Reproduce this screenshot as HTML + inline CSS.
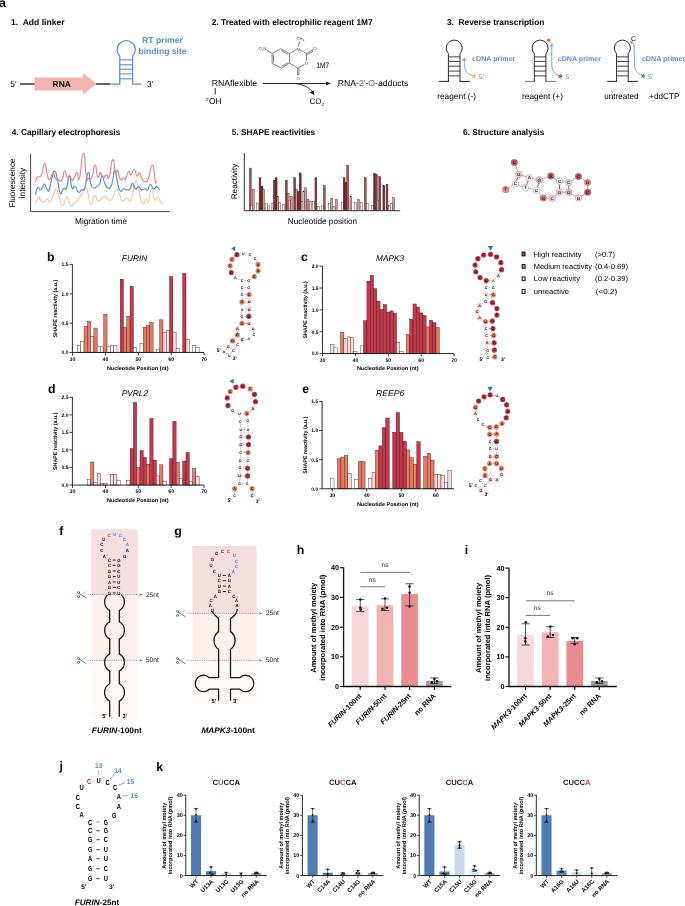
<!DOCTYPE html>
<html lang="en">
<head>
<meta charset="utf-8">
<title>Figure</title>
<style>
html,body{margin:0;padding:0;background:#fff;}
body{width:685px;height:906px;overflow:hidden;}
svg{display:block;font-family:"Liberation Sans", Arial, sans-serif;text-rendering:geometricPrecision;will-change:transform;}
</style>
</head>
<body>
<svg width="685" height="906" viewBox="0 0 685 906">
<rect x="0" y="0" width="685" height="906" fill="#ffffff"/>
<g id="panel-a">
<text x="-0.90" y="7.00" font-size="12.4" font-weight="bold">a</text>
<text x="11.10" y="24.80" font-size="8.5" font-weight="bold" textLength="53.50" lengthAdjust="spacingAndGlyphs" xml:space="preserve">1.  Add linker</text>
<text x="10.20" y="86.90" font-size="8.5">5'</text>
<line x1="20.00" y1="84.00" x2="35.00" y2="84.00" stroke="#222" stroke-width="1.4" />
<polygon points="34.5,77.4 83,77.4 83,73 96.5,84 83,94.5 83,90.5 34.5,90.5" fill="#f4b5b0"/>
<text x="61.80" y="87.00" font-size="8.5" font-weight="bold" text-anchor="middle">RNA</text>
<line x1="96.00" y1="84.00" x2="110.00" y2="84.00" stroke="#222" stroke-width="1.4" />
<path d="M110,84 L119.8,84 L119.8,56.2 A9.1,9.1 0 1 1 132.6,56.2 L132.6,84 L141.5,84" stroke="#5b8fc7" stroke-width="1.25" fill="none" />
<line x1="119.80" y1="59.90" x2="132.60" y2="59.90" stroke="#5b8fc7" stroke-width="1.1" />
<line x1="119.80" y1="64.80" x2="132.60" y2="64.80" stroke="#5b8fc7" stroke-width="1.1" />
<line x1="119.80" y1="69.20" x2="132.60" y2="69.20" stroke="#5b8fc7" stroke-width="1.1" />
<line x1="119.80" y1="73.90" x2="132.60" y2="73.90" stroke="#5b8fc7" stroke-width="1.1" />
<line x1="119.80" y1="78.80" x2="132.60" y2="78.80" stroke="#5b8fc7" stroke-width="1.1" />
<text x="146.90" y="86.90" font-size="8.5">3'</text>
<text x="162.50" y="43.30" font-size="8.7" font-weight="bold" text-anchor="middle" fill="#5b8fc7" textLength="41.00" lengthAdjust="spacingAndGlyphs">RT primer</text>
<text x="162.50" y="54.00" font-size="8.6" font-weight="bold" text-anchor="middle" fill="#5b8fc7" textLength="48.00" lengthAdjust="spacingAndGlyphs">binding site</text>
<text x="211.70" y="24.80" font-size="8.4" font-weight="bold" textLength="161.00" lengthAdjust="spacingAndGlyphs">2. Treated with electrophilic reagent 1M7</text>
<path d="M272.1,53.5 L280.6,48.6 L289.6,53.5 L289.6,63.2 L281.3,68.1 L272.1,63.2 Z" stroke="#2a2a2a" stroke-width="0.6" fill="none" />
<line x1="273.60" y1="54.60" x2="273.60" y2="62.20" stroke="#2a2a2a" stroke-width="0.6" />
<line x1="281.00" y1="50.30" x2="288.20" y2="54.30" stroke="#2a2a2a" stroke-width="0.6" />
<line x1="281.60" y1="66.30" x2="288.20" y2="62.50" stroke="#2a2a2a" stroke-width="0.6" />
<path d="M289.6,53.5 L296.4,49.6 M300,49.8 L306.4,53.5 L306.4,60.8 M304.6,64.3 L298.1,68.1 L289.6,63.2" stroke="#2a2a2a" stroke-width="0.6" fill="none" />
<line x1="306.40" y1="53.50" x2="313.00" y2="49.60" stroke="#2a2a2a" stroke-width="0.6" />
<line x1="307.00" y1="54.70" x2="313.60" y2="50.80" stroke="#2a2a2a" stroke-width="0.6" />
<line x1="297.50" y1="68.10" x2="297.50" y2="75.40" stroke="#2a2a2a" stroke-width="0.6" />
<line x1="298.90" y1="68.10" x2="298.90" y2="75.40" stroke="#2a2a2a" stroke-width="0.6" />
<line x1="298.40" y1="46.80" x2="299.40" y2="41.40" stroke="#2a2a2a" stroke-width="0.6" />
<line x1="266.30" y1="50.00" x2="272.10" y2="53.50" stroke="#2a2a2a" stroke-width="0.6" />
<text x="298.10" y="50.50" font-size="4.4" text-anchor="middle" fill="#333">N</text>
<text x="306.40" y="64.90" font-size="4.4" text-anchor="middle" fill="#333">O</text>
<text x="314.90" y="50.20" font-size="4.4" text-anchor="middle" fill="#333">O</text>
<text x="298.20" y="79.60" font-size="4.4" text-anchor="middle" fill="#333">O</text>
<text x="300.40" y="40.40" font-size="4.2" text-anchor="middle" fill="#333">CH<tspan font-size="2.8" dy="0.8">3</tspan></text>
<text x="262.40" y="50.00" font-size="4.2" text-anchor="middle" fill="#333">O<tspan font-size="2.4" dy="0.8">2</tspan><tspan dy="-0.8">N</tspan></text>
<text x="316.40" y="68.00" font-size="7.9" textLength="12.60" lengthAdjust="spacingAndGlyphs">1M7</text>
<text x="211.70" y="85.70" font-size="8.6" textLength="45.30" lengthAdjust="spacingAndGlyphs">RNAflexible</text>
<line x1="215.20" y1="88.00" x2="215.20" y2="94.40" stroke="#222" stroke-width="0.95" />
<text x="205.60" y="103.80" font-size="8.5"><tspan font-size="4.5" dy="-2.6">2'</tspan><tspan dy="2.6">OH</tspan></text>
<line x1="262.80" y1="83.50" x2="327.50" y2="83.50" stroke="#111" stroke-width="0.9" />
<polygon points="330.8,83.5 326,81.6 326,85.4" fill="#111"/>
<path d="M296,83.6 C304,84.5 310,88 312.8,92.4" stroke="#111" stroke-width="0.9" fill="none" />
<polygon points="314.4,95.2 309.9,92.6 313.6,90.4" fill="#111"/>
<text x="309.60" y="104.40" font-size="8.0">CO<tspan font-size="4.8" dy="1.6">2</tspan></text>
<text x="337.80" y="85.70" font-size="8.6" textLength="70.50" lengthAdjust="spacingAndGlyphs">RNA-<tspan fill="#c4424f">2'</tspan>-<tspan fill="#c4424f">O</tspan>-adducts</text>
<text x="446.90" y="24.80" font-size="8.5" font-weight="bold" textLength="97.50" lengthAdjust="spacingAndGlyphs" xml:space="preserve">3.  Reverse transcription</text>
<path d="M439.1,81.4 L448.8,81.4 M459.6,81.4 L469.8,81.4" stroke="#222" stroke-width="1.0" fill="none" />
<path d="M448.4,81.9 L448.4,53.6 A8,8 0 1 1 460.0,53.6 L460.0,81.9" stroke="#222" stroke-width="0.95" fill="none" />
<line x1="448.40" y1="56.90" x2="460.00" y2="56.90" stroke="#222" stroke-width="0.85" />
<line x1="448.40" y1="61.40" x2="460.00" y2="61.40" stroke="#222" stroke-width="0.85" />
<line x1="448.40" y1="66.20" x2="460.00" y2="66.20" stroke="#222" stroke-width="0.85" />
<line x1="448.40" y1="71.10" x2="460.00" y2="71.10" stroke="#222" stroke-width="0.85" />
<line x1="448.40" y1="75.90" x2="460.00" y2="75.90" stroke="#222" stroke-width="0.85" />
<path d="M473,75.6 C467,74.5 464.3,70 464.3,64 L464.3,59" stroke="#5b8fc7" stroke-width="0.8" fill="none" />
<path d="M462.6,61 L464.3,58.2 L466,61" stroke="#5b8fc7" stroke-width="0.8" fill="none" />
<polygon points="474.74,73.29 475.04,75.34 476.99,76.01 475.14,76.92 475.11,78.99 473.67,77.51 471.69,78.12 472.65,76.29 471.46,74.60 473.50,74.95" fill="#f8c23c"/>
<text x="478.80" y="78.70" font-size="6.9" fill="#5b8fc7">5'</text>
<text x="472.10" y="61.40" font-size="7.1" font-weight="bold" fill="#5b8fc7" textLength="43.30" lengthAdjust="spacingAndGlyphs">cDNA primer</text>
<text x="437.20" y="99.00" font-size="8.3" textLength="38.90" lengthAdjust="spacingAndGlyphs">reagent (-)</text>
<path d="M525.0,81.4 L534.7,81.4 M545.5,81.4 L555.7,81.4" stroke="#777" stroke-width="1.0" fill="none" />
<path d="M534.3,81.9 L534.3,53.6 A8,8 0 1 1 545.9,53.6 L545.9,81.9" stroke="#222" stroke-width="0.95" fill="none" />
<line x1="534.30" y1="56.90" x2="545.90" y2="56.90" stroke="#222" stroke-width="0.85" />
<line x1="534.30" y1="61.40" x2="545.90" y2="61.40" stroke="#222" stroke-width="0.85" />
<line x1="534.30" y1="66.20" x2="545.90" y2="66.20" stroke="#222" stroke-width="0.85" />
<line x1="534.30" y1="71.10" x2="545.90" y2="71.10" stroke="#222" stroke-width="0.85" />
<line x1="534.30" y1="75.90" x2="545.90" y2="75.90" stroke="#222" stroke-width="0.85" />
<circle cx="548.70" cy="40.20" r="1.60" fill="#e8592b"/>
<path d="M559,75.6 C553.5,74 551.8,70 551.8,64 L551.7,44.5" stroke="#5b8fc7" stroke-width="0.8" fill="none" />
<path d="M550,47.2 L551.7,43.6 L553.6,46.6" stroke="#5b8fc7" stroke-width="0.8" fill="none" />
<polygon points="561.14,73.29 561.44,75.34 563.39,76.01 561.54,76.92 561.51,78.99 560.07,77.51 558.09,78.12 559.05,76.29 557.86,74.60 559.90,74.95" fill="#cf4560"/>
<text x="565.60" y="78.70" font-size="6.9" fill="#5b8fc7">5'</text>
<text x="557.70" y="61.40" font-size="7.1" font-weight="bold" fill="#5b8fc7" textLength="43.30" lengthAdjust="spacingAndGlyphs">cDNA primer</text>
<text x="522.00" y="99.00" font-size="8.3" textLength="41.00" lengthAdjust="spacingAndGlyphs">reagent (+)</text>
<path d="M607.3,81.4 L617.0,81.4 M627.8,81.4 L638.0,81.4" stroke="#222" stroke-width="1.0" fill="none" />
<path d="M616.6,81.9 L616.6,53.6 A8,8 0 1 1 628.2,53.6 L628.2,81.9" stroke="#222" stroke-width="0.95" fill="none" />
<line x1="616.60" y1="56.90" x2="628.20" y2="56.90" stroke="#222" stroke-width="0.85" />
<line x1="616.60" y1="61.40" x2="628.20" y2="61.40" stroke="#222" stroke-width="0.85" />
<line x1="616.60" y1="66.20" x2="628.20" y2="66.20" stroke="#222" stroke-width="0.85" />
<line x1="616.60" y1="71.10" x2="628.20" y2="71.10" stroke="#222" stroke-width="0.85" />
<line x1="616.60" y1="75.90" x2="628.20" y2="75.90" stroke="#222" stroke-width="0.85" />
<text x="633.40" y="40.80" font-size="6.8" text-anchor="middle">C</text>
<path d="M642.4,75.4 C636.5,73.5 634.6,70 634.5,64 L634,44.5 L631,42" stroke="#5b8fc7" stroke-width="0.8" fill="none" />
<path d="M631.6,44.6 L630.4,41.6 L633.6,41.9" stroke="#5b8fc7" stroke-width="0.8" fill="none" />
<polygon points="644.04,73.09 644.34,75.14 646.29,75.81 644.44,76.72 644.41,78.79 642.97,77.31 640.99,77.92 641.95,76.09 640.76,74.40 642.80,74.75" fill="#4a86d0"/>
<text x="648.00" y="78.70" font-size="6.9" fill="#5b8fc7">5'</text>
<text x="641.90" y="61.40" font-size="7.1" font-weight="bold" fill="#5b8fc7" textLength="43.30" lengthAdjust="spacingAndGlyphs">cDNA primer</text>
<text x="604.30" y="99.00" font-size="8.3" textLength="34.20" lengthAdjust="spacingAndGlyphs">untreated</text>
<text x="649.30" y="99.00" font-size="8.3" textLength="30.00" lengthAdjust="spacingAndGlyphs">+ddCTP</text>
<text x="11.70" y="134.60" font-size="8.5" font-weight="bold" textLength="108.60" lengthAdjust="spacingAndGlyphs">4. Capillary electrophoresis</text>
<path d="M30.6,154 L30.6,211.6 L169.6,211.6" stroke="#444" stroke-width="1.0" fill="none" />
<text x="15.30" y="183.00" font-size="8.2" text-anchor="middle" textLength="49.00" lengthAdjust="spacingAndGlyphs" transform="rotate(-90 15.30 183.00)">Fluorescence</text>
<text x="25.00" y="183.00" font-size="8.2" text-anchor="middle" textLength="30.50" lengthAdjust="spacingAndGlyphs" transform="rotate(-90 25.00 183.00)">intensity</text>
<text x="75.00" y="223.80" font-size="8.2" textLength="52.00" lengthAdjust="spacingAndGlyphs">Migration time</text>
<path d="M35.51,204.22 C36.44,201.93 36.51,198.57 38.30,197.36 C40.09,196.14 38.94,199.14 40.88,200.58 C42.81,202.01 41.95,202.01 44.09,201.65 C46.24,201.29 45.17,199.50 47.31,199.50 C49.46,199.50 48.39,203.44 50.53,201.65 C52.68,199.86 51.82,198.29 53.75,194.14 C55.68,189.99 54.54,188.13 56.33,189.20 C58.11,190.27 57.11,191.92 59.12,197.36 C61.12,202.79 60.19,204.80 62.33,205.51 C64.48,206.23 63.77,202.08 65.55,199.50 C67.34,196.93 65.91,195.64 67.70,197.79 C69.49,199.93 68.77,204.29 70.92,205.94 C73.06,207.59 71.99,204.51 74.14,202.72 C76.28,200.93 74.85,203.44 77.36,200.58 C79.86,197.71 78.79,198.43 81.65,194.14 C84.51,189.85 83.79,187.70 85.94,187.70 C88.09,187.70 86.51,188.63 88.09,194.14 C89.66,199.65 88.52,203.51 90.66,204.22 C92.81,204.94 92.16,197.50 94.52,196.28 C96.88,195.07 95.60,199.50 97.74,200.58 C99.89,201.65 98.82,200.93 100.96,199.50 C103.11,198.07 102.03,196.64 104.18,196.28 C106.33,195.93 104.90,197.36 107.40,198.43 C109.90,199.50 108.83,202.36 111.69,199.50 C114.55,196.64 113.48,191.63 115.98,189.85 C118.49,188.06 117.06,190.56 119.20,194.14 C121.35,197.71 119.92,199.14 122.42,200.58 C124.92,202.01 123.85,198.79 126.71,198.43 C129.57,198.07 128.50,203.79 131.00,199.50 C133.51,195.21 132.22,191.28 134.22,185.55 C136.23,179.83 135.22,179.47 137.01,182.33 C138.80,185.20 137.66,186.98 139.59,194.14 C141.52,201.29 140.66,202.01 142.81,203.79 C144.95,205.58 144.09,200.22 146.03,199.50 C147.96,198.79 146.81,205.22 148.60,201.65 C150.39,198.07 149.39,189.49 151.39,188.77 C153.39,188.06 152.46,196.64 154.61,199.50 C156.76,202.36 155.68,196.28 157.83,197.36 C159.97,198.43 159.26,200.43 161.05,202.72 C162.84,205.01 162.48,203.72 163.19,204.22" stroke="#f3c6a8" stroke-width="1.15" fill="none" stroke-linejoin="round"/>
<path d="M35.51,194.78 C36.23,192.42 36.01,189.34 37.66,187.70 C39.30,186.05 38.80,190.20 40.45,189.85 C42.09,189.49 41.16,188.41 42.59,186.63 C44.02,184.84 43.16,183.41 44.74,184.48 C46.31,185.55 45.74,188.41 47.31,189.85 C48.89,191.28 47.89,192.71 49.46,188.77 C51.03,184.84 50.25,183.91 52.03,178.04 C53.82,172.18 52.96,170.46 54.82,171.18 C56.68,171.89 55.83,172.89 57.61,180.19 C59.40,187.48 58.26,190.20 60.19,193.06 C62.12,195.93 61.26,190.56 63.41,188.77 C65.55,186.98 64.62,191.99 66.63,187.70 C68.63,183.41 67.63,175.90 69.42,175.90 C71.20,175.90 70.06,184.12 71.99,187.70 C73.92,191.28 73.06,185.20 75.21,186.63 C77.36,188.06 76.28,190.92 78.43,191.99 C80.58,193.06 79.50,191.28 81.65,189.85 C83.79,188.41 82.72,193.42 84.87,187.70 C87.01,181.98 86.15,174.11 88.09,172.68 C90.02,171.25 88.87,178.40 90.66,183.41 C92.45,188.41 91.45,186.63 93.45,187.70 C95.45,188.77 94.52,188.06 96.67,186.63 C98.82,185.20 98.10,186.98 99.89,183.41 C101.68,179.83 100.39,175.90 102.03,175.90 C103.68,175.90 102.89,179.47 104.82,183.41 C106.76,187.34 105.90,186.63 107.83,187.70 C109.76,188.77 108.97,189.13 110.62,186.63 C112.26,184.12 111.33,185.55 112.76,180.19 C114.19,174.82 113.26,169.46 114.91,170.53 C116.56,171.61 115.91,176.61 117.70,183.41 C119.49,190.20 118.34,189.13 120.27,190.92 C122.21,192.71 121.35,189.13 123.49,188.77 C125.64,188.41 124.57,189.85 126.71,189.85 C128.86,189.85 128.00,190.92 129.93,188.77 C131.86,186.63 130.72,183.41 132.51,183.41 C134.29,183.41 133.29,187.70 135.30,188.77 C137.30,189.85 136.37,186.27 138.52,186.63 C140.66,186.98 139.59,189.13 141.73,189.85 C143.88,190.56 142.95,188.77 144.95,188.77 C146.96,188.77 145.95,191.28 147.74,189.85 C149.53,188.41 148.39,184.84 150.32,184.48 C152.25,184.12 151.39,188.06 153.54,188.77 C155.68,189.49 154.82,186.27 156.76,186.63 C158.69,186.98 158.47,188.77 159.33,189.85" stroke="#4f8fd6" stroke-width="1.15" fill="none" stroke-linejoin="round"/>
<path d="M35.51,182.33 C36.01,180.76 35.58,179.62 37.01,177.61 C38.44,175.61 38.16,177.61 39.80,176.33 C41.45,175.04 40.30,178.04 41.95,173.75 C43.59,169.46 42.95,163.09 44.74,163.45 C46.53,163.81 45.74,169.60 47.31,174.82 C48.89,180.05 47.89,179.12 49.46,179.12 C51.03,179.12 50.60,176.76 52.03,174.82 C53.46,172.89 52.46,171.89 53.75,173.32 C55.04,174.75 54.11,176.83 55.90,179.12 C57.69,181.40 57.11,179.83 59.12,180.19 C61.12,180.55 60.12,183.19 61.91,180.19 C63.69,177.18 62.76,172.25 64.48,171.18 C66.20,170.10 65.27,175.40 67.06,176.97 C68.84,178.54 68.20,174.82 69.85,175.90 C71.49,176.97 70.56,179.47 71.99,180.19 C73.42,180.90 72.49,180.55 74.14,178.04 C75.78,175.54 75.14,172.68 76.93,172.68 C78.72,172.68 77.36,184.48 79.50,178.04 C81.65,171.61 81.08,154.08 83.36,153.36 C85.65,152.65 84.44,167.67 86.37,175.90 C88.30,184.12 87.16,178.04 89.16,178.04 C91.16,178.04 90.37,180.19 92.38,175.90 C94.38,171.61 93.38,164.81 95.17,165.17 C96.96,165.53 95.95,174.47 97.74,176.97 C99.53,179.47 98.74,172.32 100.53,172.68 C102.32,173.04 101.18,177.33 103.11,178.04 C105.04,178.76 104.32,175.18 106.33,174.82 C108.33,174.47 106.97,181.98 109.12,176.97 C111.26,171.96 110.62,161.23 112.76,159.80 C114.91,158.37 113.91,169.10 115.55,172.68 C117.20,176.25 116.13,168.39 117.70,170.53 C119.27,172.68 118.34,176.61 120.27,179.12 C122.21,181.62 121.71,178.04 123.49,178.04 C125.28,178.04 123.99,181.26 125.64,179.12 C127.28,176.97 126.64,173.04 128.43,171.61 C130.22,170.17 129.07,175.54 131.00,174.82 C132.94,174.11 132.22,169.10 134.22,169.46 C136.23,169.82 135.22,174.61 137.01,175.90 C138.80,177.18 137.66,171.89 139.59,173.32 C141.52,174.75 140.80,177.54 142.81,180.19 C144.81,182.84 143.81,181.62 145.60,181.26 C147.38,180.90 145.88,184.48 148.17,179.12 C150.46,173.75 150.17,164.81 152.46,165.17 C154.75,165.53 153.61,174.61 155.04,180.19 C156.47,185.77 156.18,181.33 156.76,181.91" stroke="#ea8088" stroke-width="1.15" fill="none" stroke-linejoin="round"/>
<text x="231.70" y="134.60" font-size="8.5" font-weight="bold" textLength="83.50" lengthAdjust="spacingAndGlyphs">5. SHAPE reactivities</text>
<text x="236.90" y="181.50" font-size="8.1" text-anchor="middle" textLength="35.60" lengthAdjust="spacingAndGlyphs" transform="rotate(-90 236.90 181.50)">Reactivity</text>
<text x="287.70" y="224.20" font-size="8.2" textLength="69.50" lengthAdjust="spacingAndGlyphs">Nucleotide position</text>
<rect x="249.41" y="168.07" width="1.90" height="42.33" fill="#b5484e" stroke="#2a1414" stroke-width="0.35"/>
<rect x="252.30" y="189.04" width="1.90" height="21.36" fill="#d9948a" stroke="#2a1414" stroke-width="0.35"/>
<rect x="250.62" y="205.42" width="1.90" height="4.98" fill="#f2f2f2" stroke="#2a1414" stroke-width="0.35"/>
<rect x="256.40" y="203.01" width="1.90" height="7.39" fill="#f2f2f2" stroke="#2a1414" stroke-width="0.35"/>
<rect x="259.05" y="177.71" width="1.90" height="32.69" fill="#8c3a3f" stroke="#2a1414" stroke-width="0.35"/>
<rect x="260.98" y="186.14" width="1.90" height="24.26" fill="#6e2a2e" stroke="#2a1414" stroke-width="0.35"/>
<rect x="262.66" y="189.04" width="1.90" height="21.36" fill="#d9948a" stroke="#2a1414" stroke-width="0.35"/>
<rect x="265.56" y="203.49" width="1.90" height="6.91" fill="#f2f2f2" stroke="#2a1414" stroke-width="0.35"/>
<rect x="267.97" y="205.90" width="1.90" height="4.50" fill="#f2f2f2" stroke="#2a1414" stroke-width="0.35"/>
<rect x="271.10" y="203.49" width="1.90" height="6.91" fill="#f2f2f2" stroke="#2a1414" stroke-width="0.35"/>
<rect x="273.27" y="180.12" width="1.90" height="30.28" fill="#8c3a3f" stroke="#2a1414" stroke-width="0.35"/>
<rect x="275.19" y="177.71" width="1.90" height="32.69" fill="#6e2a2e" stroke="#2a1414" stroke-width="0.35"/>
<rect x="276.88" y="196.27" width="1.90" height="14.13" fill="#d9948a" stroke="#2a1414" stroke-width="0.35"/>
<rect x="278.81" y="202.53" width="1.90" height="7.87" fill="#f2f2f2" stroke="#2a1414" stroke-width="0.35"/>
<rect x="282.42" y="204.22" width="1.90" height="6.18" fill="#f2f2f2" stroke="#2a1414" stroke-width="0.35"/>
<rect x="285.32" y="180.12" width="1.90" height="30.28" fill="#8c3a3f" stroke="#2a1414" stroke-width="0.35"/>
<rect x="287.24" y="193.37" width="1.90" height="17.03" fill="#d9948a" stroke="#2a1414" stroke-width="0.35"/>
<rect x="288.93" y="200.12" width="1.90" height="10.28" fill="#e8c4c0" stroke="#2a1414" stroke-width="0.35"/>
<rect x="290.62" y="196.27" width="1.90" height="14.13" fill="#d9948a" stroke="#2a1414" stroke-width="0.35"/>
<rect x="293.75" y="177.71" width="1.90" height="32.69" fill="#8c3a3f" stroke="#2a1414" stroke-width="0.35"/>
<rect x="295.68" y="189.76" width="1.90" height="20.64" fill="#d9948a" stroke="#2a1414" stroke-width="0.35"/>
<rect x="297.36" y="191.45" width="1.90" height="18.95" fill="#6e2a2e" stroke="#2a1414" stroke-width="0.35"/>
<rect x="299.29" y="172.89" width="1.90" height="37.51" fill="#6e2a2e" stroke="#2a1414" stroke-width="0.35"/>
<rect x="301.22" y="201.81" width="1.90" height="8.59" fill="#f2f2f2" stroke="#2a1414" stroke-width="0.35"/>
<rect x="302.91" y="190.96" width="1.90" height="19.44" fill="#e8c4c0" stroke="#2a1414" stroke-width="0.35"/>
<rect x="304.59" y="187.83" width="1.90" height="22.57" fill="#d9948a" stroke="#2a1414" stroke-width="0.35"/>
<rect x="307.00" y="199.40" width="1.90" height="11.00" fill="#d9948a" stroke="#2a1414" stroke-width="0.35"/>
<rect x="309.41" y="201.08" width="1.90" height="9.32" fill="#e8c4c0" stroke="#2a1414" stroke-width="0.35"/>
<rect x="312.54" y="201.81" width="1.90" height="8.59" fill="#f2f2f2" stroke="#2a1414" stroke-width="0.35"/>
<rect x="314.95" y="177.71" width="1.90" height="32.69" fill="#8c3a3f" stroke="#2a1414" stroke-width="0.35"/>
<rect x="317.36" y="206.63" width="1.90" height="3.77" fill="#f2f2f2" stroke="#2a1414" stroke-width="0.35"/>
<rect x="321.70" y="205.90" width="1.90" height="4.50" fill="#f2f2f2" stroke="#2a1414" stroke-width="0.35"/>
<rect x="323.39" y="185.42" width="1.90" height="24.98" fill="#b5484e" stroke="#2a1414" stroke-width="0.35"/>
<rect x="328.21" y="203.49" width="1.90" height="6.91" fill="#f2f2f2" stroke="#2a1414" stroke-width="0.35"/>
<rect x="330.62" y="198.19" width="1.90" height="12.21" fill="#d9948a" stroke="#2a1414" stroke-width="0.35"/>
<rect x="333.03" y="206.63" width="1.90" height="3.77" fill="#f2f2f2" stroke="#2a1414" stroke-width="0.35"/>
<rect x="335.44" y="199.40" width="1.90" height="11.00" fill="#d9948a" stroke="#2a1414" stroke-width="0.35"/>
<rect x="341.46" y="202.53" width="1.90" height="7.87" fill="#f2f2f2" stroke="#2a1414" stroke-width="0.35"/>
<rect x="343.15" y="177.71" width="1.90" height="32.69" fill="#8c3a3f" stroke="#2a1414" stroke-width="0.35"/>
<rect x="344.83" y="182.53" width="1.90" height="27.87" fill="#6e2a2e" stroke="#2a1414" stroke-width="0.35"/>
<rect x="346.76" y="165.18" width="1.90" height="45.22" fill="#b5484e" stroke="#2a1414" stroke-width="0.35"/>
<rect x="349.89" y="196.27" width="1.90" height="14.13" fill="#d9948a" stroke="#2a1414" stroke-width="0.35"/>
<rect x="354.71" y="202.53" width="1.90" height="7.87" fill="#f2f2f2" stroke="#2a1414" stroke-width="0.35"/>
<rect x="357.60" y="199.40" width="1.90" height="11.00" fill="#d9948a" stroke="#2a1414" stroke-width="0.35"/>
<rect x="360.74" y="202.53" width="1.90" height="7.87" fill="#f2f2f2" stroke="#2a1414" stroke-width="0.35"/>
<rect x="364.35" y="177.71" width="1.90" height="32.69" fill="#b5484e" stroke="#2a1414" stroke-width="0.35"/>
<rect x="366.28" y="203.49" width="1.90" height="6.91" fill="#f2f2f2" stroke="#2a1414" stroke-width="0.35"/>
<rect x="371.58" y="205.42" width="1.90" height="4.98" fill="#f2f2f2" stroke="#2a1414" stroke-width="0.35"/>
<rect x="373.51" y="173.37" width="1.90" height="37.03" fill="#6e2a2e" stroke="#2a1414" stroke-width="0.35"/>
<rect x="375.44" y="174.10" width="1.90" height="36.30" fill="#8c3a3f" stroke="#2a1414" stroke-width="0.35"/>
<rect x="377.12" y="200.12" width="1.90" height="10.28" fill="#f2f2f2" stroke="#2a1414" stroke-width="0.35"/>
<rect x="378.81" y="176.51" width="1.90" height="33.89" fill="#8c3a3f" stroke="#2a1414" stroke-width="0.35"/>
<rect x="382.91" y="185.42" width="1.90" height="24.98" fill="#6e2a2e" stroke="#2a1414" stroke-width="0.35"/>
<rect x="386.04" y="184.22" width="1.90" height="26.18" fill="#8c3a3f" stroke="#2a1414" stroke-width="0.35"/>
<rect x="388.45" y="205.42" width="1.90" height="4.98" fill="#f2f2f2" stroke="#2a1414" stroke-width="0.35"/>
<rect x="390.38" y="203.49" width="1.90" height="6.91" fill="#f2f2f2" stroke="#2a1414" stroke-width="0.35"/>
<rect x="392.78" y="197.71" width="1.90" height="12.69" fill="#d9948a" stroke="#2a1414" stroke-width="0.35"/>
<path d="M244.3,152.9 L244.3,210.7 L400.2,210.7" stroke="#333" stroke-width="1.0" fill="none" />
<text x="463.10" y="135.00" font-size="8.5" font-weight="bold" textLength="81.20" lengthAdjust="spacingAndGlyphs">6. Structure analysis</text>
<line x1="514.36" y1="162.56" x2="518.82" y2="174.39" stroke="#8a8a8a" stroke-width="0.7" />
<line x1="518.82" y1="174.39" x2="529.33" y2="177.80" stroke="#8a8a8a" stroke-width="0.7" />
<line x1="529.33" y1="177.80" x2="539.32" y2="179.91" stroke="#8a8a8a" stroke-width="0.7" />
<line x1="539.32" y1="179.91" x2="550.88" y2="175.96" stroke="#8a8a8a" stroke-width="0.7" />
<line x1="550.88" y1="175.96" x2="559.55" y2="181.22" stroke="#8a8a8a" stroke-width="0.7" />
<line x1="559.55" y1="181.22" x2="568.74" y2="182.53" stroke="#8a8a8a" stroke-width="0.7" />
<line x1="568.74" y1="182.53" x2="578.47" y2="176.49" stroke="#8a8a8a" stroke-width="0.7" />
<line x1="578.47" y1="176.49" x2="587.66" y2="182.53" stroke="#8a8a8a" stroke-width="0.7" />
<line x1="587.66" y1="182.53" x2="587.66" y2="192.25" stroke="#8a8a8a" stroke-width="0.7" />
<line x1="587.66" y1="192.25" x2="578.47" y2="198.03" stroke="#8a8a8a" stroke-width="0.7" />
<line x1="578.47" y1="198.03" x2="568.74" y2="192.25" stroke="#8a8a8a" stroke-width="0.7" />
<line x1="568.74" y1="192.25" x2="559.55" y2="192.25" stroke="#8a8a8a" stroke-width="0.7" />
<line x1="559.55" y1="192.25" x2="552.19" y2="198.30" stroke="#8a8a8a" stroke-width="0.7" />
<line x1="552.19" y1="198.30" x2="543.26" y2="198.03" stroke="#8a8a8a" stroke-width="0.7" />
<line x1="543.26" y1="198.03" x2="536.69" y2="190.15" stroke="#8a8a8a" stroke-width="0.7" />
<line x1="536.69" y1="190.15" x2="525.39" y2="187.79" stroke="#8a8a8a" stroke-width="0.7" />
<line x1="525.39" y1="187.79" x2="515.41" y2="183.85" stroke="#8a8a8a" stroke-width="0.7" />
<line x1="515.41" y1="183.85" x2="505.69" y2="189.63" stroke="#8a8a8a" stroke-width="0.7" />
<line x1="518.82" y1="174.39" x2="515.41" y2="183.85" stroke="#cc3a42" stroke-width="0.95" />
<line x1="529.33" y1="177.80" x2="525.39" y2="187.79" stroke="#cc3a42" stroke-width="0.95" />
<line x1="539.32" y1="179.91" x2="536.69" y2="190.15" stroke="#cc3a42" stroke-width="0.95" />
<line x1="559.55" y1="181.22" x2="559.55" y2="192.25" stroke="#cc3a42" stroke-width="0.95" />
<line x1="568.74" y1="182.53" x2="568.74" y2="192.25" stroke="#cc3a42" stroke-width="0.95" />
<circle cx="514.36" cy="162.56" r="3.30" fill="#c4515d" stroke="#8e8888" stroke-width="0.5"/>
<text x="514.36" y="164.16" font-size="4.6" font-weight="bold" text-anchor="middle" fill="#1a1a1a">C</text>
<circle cx="518.82" cy="174.39" r="3.30" fill="#f9dbd9" stroke="#8e8888" stroke-width="0.5"/>
<text x="518.82" y="175.99" font-size="4.6" font-weight="bold" text-anchor="middle" fill="#1a1a1a">G</text>
<circle cx="529.33" cy="177.80" r="3.30" fill="#ffffff" stroke="#8e8888" stroke-width="0.5"/>
<text x="529.33" y="179.40" font-size="4.6" font-weight="bold" text-anchor="middle" fill="#1a1a1a">A</text>
<circle cx="539.32" cy="179.91" r="3.30" fill="#f4c4c3" stroke="#8e8888" stroke-width="0.5"/>
<text x="539.32" y="181.51" font-size="4.6" font-weight="bold" text-anchor="middle" fill="#1a1a1a">G</text>
<circle cx="550.88" cy="175.96" r="3.30" fill="#c4515d" stroke="#8e8888" stroke-width="0.5"/>
<text x="550.88" y="177.56" font-size="4.6" font-weight="bold" text-anchor="middle" fill="#1a1a1a">A</text>
<circle cx="559.55" cy="181.22" r="3.30" fill="#ffffff" stroke="#8e8888" stroke-width="0.5"/>
<text x="559.55" y="182.82" font-size="4.6" font-weight="bold" text-anchor="middle" fill="#1a1a1a">C</text>
<circle cx="568.74" cy="182.53" r="3.30" fill="#f9dbd9" stroke="#8e8888" stroke-width="0.5"/>
<text x="568.74" y="184.13" font-size="4.6" font-weight="bold" text-anchor="middle" fill="#1a1a1a">C</text>
<circle cx="578.47" cy="176.49" r="3.30" fill="#c4515d" stroke="#8e8888" stroke-width="0.5"/>
<text x="578.47" y="178.09" font-size="4.6" font-weight="bold" text-anchor="middle" fill="#1a1a1a">C</text>
<circle cx="587.66" cy="182.53" r="3.30" fill="#e8907a" stroke="#8e8888" stroke-width="0.5"/>
<text x="587.66" y="184.13" font-size="4.6" font-weight="bold" text-anchor="middle" fill="#1a1a1a">G</text>
<circle cx="587.66" cy="192.25" r="3.30" fill="#c4515d" stroke="#8e8888" stroke-width="0.5"/>
<text x="587.66" y="193.85" font-size="4.6" font-weight="bold" text-anchor="middle" fill="#1a1a1a">C</text>
<circle cx="578.47" cy="198.03" r="3.30" fill="#f9dbd9" stroke="#8e8888" stroke-width="0.5"/>
<text x="578.47" y="199.63" font-size="4.6" font-weight="bold" text-anchor="middle" fill="#1a1a1a">G</text>
<circle cx="568.74" cy="192.25" r="3.30" fill="#f4c4c3" stroke="#8e8888" stroke-width="0.5"/>
<text x="568.74" y="193.85" font-size="4.6" font-weight="bold" text-anchor="middle" fill="#1a1a1a">G</text>
<circle cx="559.55" cy="192.25" r="3.30" fill="#f9dbd9" stroke="#8e8888" stroke-width="0.5"/>
<text x="559.55" y="193.85" font-size="4.6" font-weight="bold" text-anchor="middle" fill="#1a1a1a">G</text>
<circle cx="552.19" cy="198.30" r="3.30" fill="#f9dbd9" stroke="#8e8888" stroke-width="0.5"/>
<text x="552.19" y="199.90" font-size="4.6" font-weight="bold" text-anchor="middle" fill="#1a1a1a">C</text>
<circle cx="543.26" cy="198.03" r="3.30" fill="#dc8272" stroke="#8e8888" stroke-width="0.5"/>
<text x="543.26" y="199.63" font-size="4.6" font-weight="bold" text-anchor="middle" fill="#1a1a1a">G</text>
<circle cx="536.69" cy="190.15" r="3.30" fill="#ffffff" stroke="#8e8888" stroke-width="0.5"/>
<text x="536.69" y="191.75" font-size="4.6" font-weight="bold" text-anchor="middle" fill="#1a1a1a">C</text>
<circle cx="525.39" cy="187.79" r="3.30" fill="#ffffff" stroke="#8e8888" stroke-width="0.5"/>
<text x="525.39" y="189.39" font-size="4.6" font-weight="bold" text-anchor="middle" fill="#1a1a1a">T</text>
<circle cx="515.41" cy="183.85" r="3.30" fill="#ffffff" stroke="#8e8888" stroke-width="0.5"/>
<text x="515.41" y="185.45" font-size="4.6" font-weight="bold" text-anchor="middle" fill="#1a1a1a">C</text>
<circle cx="505.69" cy="189.63" r="3.30" fill="#e8907a" stroke="#8e8888" stroke-width="0.5"/>
<text x="505.69" y="191.23" font-size="4.6" font-weight="bold" text-anchor="middle" fill="#1a1a1a">T</text>
</g>
<g id="panel-b">
<text x="46.90" y="260.50" font-size="12.3" font-weight="bold">b</text>
<text x="121.80" y="260.50" font-size="8.3" font-style="italic" textLength="25.50" lengthAdjust="spacingAndGlyphs">FURIN</text>
<rect x="77.44" y="345.42" width="3.29" height="7.03" fill="#ffffff" stroke="#3a1518" stroke-width="0.4"/>
<rect x="80.73" y="341.50" width="3.29" height="10.95" fill="#ffffff" stroke="#3a1518" stroke-width="0.4"/>
<rect x="84.02" y="326.50" width="3.29" height="25.95" fill="#e97a62" stroke="#3a1518" stroke-width="0.4"/>
<rect x="87.31" y="321.41" width="3.29" height="31.04" fill="#e97a62" stroke="#3a1518" stroke-width="0.4"/>
<rect x="90.60" y="336.40" width="3.29" height="16.05" fill="#fcdcd9" stroke="#3a1518" stroke-width="0.4"/>
<rect x="93.89" y="328.03" width="3.29" height="24.42" fill="#e97a62" stroke="#3a1518" stroke-width="0.4"/>
<rect x="97.17" y="346.83" width="3.29" height="5.62" fill="#ffffff" stroke="#3a1518" stroke-width="0.4"/>
<rect x="100.47" y="346.83" width="3.29" height="5.62" fill="#ffffff" stroke="#3a1518" stroke-width="0.4"/>
<rect x="103.76" y="314.26" width="3.29" height="38.19" fill="#e97a62" stroke="#3a1518" stroke-width="0.4"/>
<rect x="107.05" y="346.36" width="3.29" height="6.09" fill="#ffffff" stroke="#3a1518" stroke-width="0.4"/>
<rect x="110.34" y="345.30" width="3.29" height="7.15" fill="#ffffff" stroke="#3a1518" stroke-width="0.4"/>
<rect x="113.63" y="345.60" width="3.29" height="6.85" fill="#ffffff" stroke="#3a1518" stroke-width="0.4"/>
<rect x="120.20" y="279.12" width="3.29" height="73.33" fill="#c5384b" stroke="#3a1518" stroke-width="0.4"/>
<rect x="123.50" y="327.50" width="3.29" height="24.95" fill="#e97a62" stroke="#3a1518" stroke-width="0.4"/>
<rect x="126.79" y="316.14" width="3.29" height="36.31" fill="#e97a62" stroke="#3a1518" stroke-width="0.4"/>
<rect x="130.07" y="286.27" width="3.29" height="66.18" fill="#c5384b" stroke="#3a1518" stroke-width="0.4"/>
<rect x="133.36" y="347.35" width="3.29" height="5.10" fill="#ffffff" stroke="#3a1518" stroke-width="0.4"/>
<rect x="139.94" y="343.26" width="3.29" height="9.19" fill="#ffffff" stroke="#3a1518" stroke-width="0.4"/>
<rect x="143.23" y="327.27" width="3.29" height="25.18" fill="#e97a62" stroke="#3a1518" stroke-width="0.4"/>
<rect x="146.53" y="325.51" width="3.29" height="26.94" fill="#e97a62" stroke="#3a1518" stroke-width="0.4"/>
<rect x="149.81" y="322.41" width="3.29" height="30.04" fill="#e97a62" stroke="#3a1518" stroke-width="0.4"/>
<rect x="156.40" y="349.40" width="3.29" height="3.05" fill="#ffffff" stroke="#3a1518" stroke-width="0.4"/>
<rect x="159.68" y="319.83" width="3.29" height="32.62" fill="#e97a62" stroke="#3a1518" stroke-width="0.4"/>
<rect x="162.97" y="332.54" width="3.29" height="19.91" fill="#fcdcd9" stroke="#3a1518" stroke-width="0.4"/>
<rect x="166.26" y="330.31" width="3.29" height="22.14" fill="#fcdcd9" stroke="#3a1518" stroke-width="0.4"/>
<rect x="169.55" y="276.55" width="3.29" height="75.90" fill="#c5384b" stroke="#3a1518" stroke-width="0.4"/>
<rect x="172.84" y="332.07" width="3.29" height="20.38" fill="#fcdcd9" stroke="#3a1518" stroke-width="0.4"/>
<rect x="176.13" y="348.64" width="3.29" height="3.81" fill="#ffffff" stroke="#3a1518" stroke-width="0.4"/>
<rect x="182.72" y="273.50" width="3.29" height="78.95" fill="#c5384b" stroke="#3a1518" stroke-width="0.4"/>
<rect x="186.00" y="339.45" width="3.29" height="13.00" fill="#fcdcd9" stroke="#3a1518" stroke-width="0.4"/>
<rect x="192.59" y="345.30" width="3.29" height="7.15" fill="#ffffff" stroke="#3a1518" stroke-width="0.4"/>
<rect x="195.87" y="347.18" width="3.29" height="5.27" fill="#ffffff" stroke="#3a1518" stroke-width="0.4"/>
<path d="M72.40,264.20 L72.40,352.45 L204.00,352.45" stroke="#111" stroke-width="0.9" fill="none" />
<line x1="69.50" y1="352.45" x2="72.40" y2="352.45" stroke="#111" stroke-width="0.8" />
<text x="68.50" y="354.30" font-size="5.1" font-weight="bold" text-anchor="end" textLength="6.90" lengthAdjust="spacingAndGlyphs">0.0</text>
<line x1="69.50" y1="323.17" x2="72.40" y2="323.17" stroke="#111" stroke-width="0.8" />
<text x="68.50" y="325.02" font-size="5.1" font-weight="bold" text-anchor="end" textLength="6.90" lengthAdjust="spacingAndGlyphs">0.5</text>
<line x1="69.50" y1="293.88" x2="72.40" y2="293.88" stroke="#111" stroke-width="0.8" />
<text x="68.50" y="295.73" font-size="5.1" font-weight="bold" text-anchor="end" textLength="6.90" lengthAdjust="spacingAndGlyphs">1.0</text>
<line x1="69.50" y1="264.60" x2="72.40" y2="264.60" stroke="#111" stroke-width="0.8" />
<text x="68.50" y="266.45" font-size="5.1" font-weight="bold" text-anchor="end" textLength="6.90" lengthAdjust="spacingAndGlyphs">1.5</text>
<line x1="72.50" y1="352.45" x2="72.50" y2="355.35" stroke="#111" stroke-width="0.8" />
<text x="72.50" y="360.70" font-size="5.2" font-weight="bold" text-anchor="middle">30</text>
<line x1="105.40" y1="352.45" x2="105.40" y2="355.35" stroke="#111" stroke-width="0.8" />
<text x="105.40" y="360.70" font-size="5.2" font-weight="bold" text-anchor="middle">40</text>
<line x1="138.30" y1="352.45" x2="138.30" y2="355.35" stroke="#111" stroke-width="0.8" />
<text x="138.30" y="360.70" font-size="5.2" font-weight="bold" text-anchor="middle">50</text>
<line x1="171.20" y1="352.45" x2="171.20" y2="355.35" stroke="#111" stroke-width="0.8" />
<text x="171.20" y="360.70" font-size="5.2" font-weight="bold" text-anchor="middle">60</text>
<line x1="204.10" y1="352.45" x2="204.10" y2="355.35" stroke="#111" stroke-width="0.8" />
<text x="204.10" y="360.70" font-size="5.2" font-weight="bold" text-anchor="middle">70</text>
<text x="106.90" y="369.60" font-size="5.45" font-weight="bold" textLength="61.60" lengthAdjust="spacingAndGlyphs">Nucleotide Position (nt)</text>
<text x="57.20" y="308.52" font-size="5.35" font-weight="bold" text-anchor="middle" textLength="57.50" lengthAdjust="spacingAndGlyphs" transform="rotate(-90 57.20 308.52)">SHAPE reactivity (a.u.)</text>
</g>
<g id="panel-c">
<text x="301.00" y="260.50" font-size="12.3" font-weight="bold">c</text>
<text x="376.10" y="260.50" font-size="8.3" font-style="italic" textLength="28.10" lengthAdjust="spacingAndGlyphs">MAPK3</text>
<rect x="330.73" y="344.77" width="3.29" height="8.73" fill="#fcdcd9" stroke="#3a1518" stroke-width="0.4"/>
<rect x="334.02" y="347.83" width="3.29" height="5.67" fill="#ffffff" stroke="#3a1518" stroke-width="0.4"/>
<rect x="340.60" y="332.11" width="3.29" height="21.39" fill="#e97a62" stroke="#3a1518" stroke-width="0.4"/>
<rect x="343.88" y="338.22" width="3.29" height="15.28" fill="#fcdcd9" stroke="#3a1518" stroke-width="0.4"/>
<rect x="347.18" y="336.91" width="3.29" height="16.59" fill="#fcdcd9" stroke="#3a1518" stroke-width="0.4"/>
<rect x="350.47" y="337.79" width="3.29" height="15.71" fill="#fcdcd9" stroke="#3a1518" stroke-width="0.4"/>
<rect x="353.75" y="351.75" width="3.29" height="1.75" fill="#ffffff" stroke="#3a1518" stroke-width="0.4"/>
<rect x="360.34" y="345.86" width="3.29" height="7.64" fill="#ffffff" stroke="#3a1518" stroke-width="0.4"/>
<rect x="363.62" y="320.76" width="3.29" height="32.74" fill="#c5384b" stroke="#3a1518" stroke-width="0.4"/>
<rect x="366.92" y="281.04" width="3.29" height="72.46" fill="#c5384b" stroke="#3a1518" stroke-width="0.4"/>
<rect x="370.21" y="275.37" width="3.29" height="78.13" fill="#c5384b" stroke="#3a1518" stroke-width="0.4"/>
<rect x="373.50" y="288.68" width="3.29" height="64.82" fill="#c5384b" stroke="#3a1518" stroke-width="0.4"/>
<rect x="376.79" y="301.12" width="3.29" height="52.38" fill="#c5384b" stroke="#3a1518" stroke-width="0.4"/>
<rect x="380.08" y="309.41" width="3.29" height="44.09" fill="#c5384b" stroke="#3a1518" stroke-width="0.4"/>
<rect x="383.37" y="304.61" width="3.29" height="48.89" fill="#c5384b" stroke="#3a1518" stroke-width="0.4"/>
<rect x="386.66" y="312.03" width="3.29" height="41.47" fill="#c5384b" stroke="#3a1518" stroke-width="0.4"/>
<rect x="389.95" y="310.94" width="3.29" height="42.56" fill="#c5384b" stroke="#3a1518" stroke-width="0.4"/>
<rect x="393.24" y="313.34" width="3.29" height="40.16" fill="#c5384b" stroke="#3a1518" stroke-width="0.4"/>
<rect x="396.53" y="342.15" width="3.29" height="11.35" fill="#fcdcd9" stroke="#3a1518" stroke-width="0.4"/>
<rect x="399.82" y="351.32" width="3.29" height="2.18" fill="#ffffff" stroke="#3a1518" stroke-width="0.4"/>
<rect x="406.40" y="334.29" width="3.29" height="19.21" fill="#e97a62" stroke="#3a1518" stroke-width="0.4"/>
<rect x="409.69" y="319.45" width="3.29" height="34.05" fill="#c5384b" stroke="#3a1518" stroke-width="0.4"/>
<rect x="412.98" y="303.96" width="3.29" height="49.54" fill="#c5384b" stroke="#3a1518" stroke-width="0.4"/>
<rect x="416.26" y="307.01" width="3.29" height="46.49" fill="#c5384b" stroke="#3a1518" stroke-width="0.4"/>
<rect x="419.56" y="312.91" width="3.29" height="40.59" fill="#c5384b" stroke="#3a1518" stroke-width="0.4"/>
<rect x="422.85" y="315.52" width="3.29" height="37.98" fill="#c5384b" stroke="#3a1518" stroke-width="0.4"/>
<rect x="426.13" y="326.87" width="3.29" height="26.63" fill="#e97a62" stroke="#3a1518" stroke-width="0.4"/>
<rect x="429.43" y="320.33" width="3.29" height="33.17" fill="#c5384b" stroke="#3a1518" stroke-width="0.4"/>
<rect x="432.72" y="322.51" width="3.29" height="30.99" fill="#c5384b" stroke="#3a1518" stroke-width="0.4"/>
<rect x="436.00" y="327.75" width="3.29" height="25.75" fill="#e97a62" stroke="#3a1518" stroke-width="0.4"/>
<path d="M322.45,265.80 L322.45,353.50 L454.00,353.50" stroke="#111" stroke-width="0.9" fill="none" />
<line x1="319.55" y1="353.50" x2="322.45" y2="353.50" stroke="#111" stroke-width="0.8" />
<text x="318.55" y="355.35" font-size="5.1" font-weight="bold" text-anchor="end" textLength="6.90" lengthAdjust="spacingAndGlyphs">0.0</text>
<line x1="319.55" y1="331.68" x2="322.45" y2="331.68" stroke="#111" stroke-width="0.8" />
<text x="318.55" y="333.53" font-size="5.1" font-weight="bold" text-anchor="end" textLength="6.90" lengthAdjust="spacingAndGlyphs">0.5</text>
<line x1="319.55" y1="309.85" x2="322.45" y2="309.85" stroke="#111" stroke-width="0.8" />
<text x="318.55" y="311.70" font-size="5.1" font-weight="bold" text-anchor="end" textLength="6.90" lengthAdjust="spacingAndGlyphs">1.0</text>
<line x1="319.55" y1="288.02" x2="322.45" y2="288.02" stroke="#111" stroke-width="0.8" />
<text x="318.55" y="289.88" font-size="5.1" font-weight="bold" text-anchor="end" textLength="6.90" lengthAdjust="spacingAndGlyphs">1.5</text>
<line x1="319.55" y1="266.20" x2="322.45" y2="266.20" stroke="#111" stroke-width="0.8" />
<text x="318.55" y="268.05" font-size="5.1" font-weight="bold" text-anchor="end" textLength="6.90" lengthAdjust="spacingAndGlyphs">2.0</text>
<line x1="322.50" y1="353.50" x2="322.50" y2="356.40" stroke="#111" stroke-width="0.8" />
<text x="322.50" y="361.50" font-size="5.2" font-weight="bold" text-anchor="middle">30</text>
<line x1="355.40" y1="353.50" x2="355.40" y2="356.40" stroke="#111" stroke-width="0.8" />
<text x="355.40" y="361.50" font-size="5.2" font-weight="bold" text-anchor="middle">40</text>
<line x1="388.30" y1="353.50" x2="388.30" y2="356.40" stroke="#111" stroke-width="0.8" />
<text x="388.30" y="361.50" font-size="5.2" font-weight="bold" text-anchor="middle">50</text>
<line x1="421.20" y1="353.50" x2="421.20" y2="356.40" stroke="#111" stroke-width="0.8" />
<text x="421.20" y="361.50" font-size="5.2" font-weight="bold" text-anchor="middle">60</text>
<line x1="454.10" y1="353.50" x2="454.10" y2="356.40" stroke="#111" stroke-width="0.8" />
<text x="454.10" y="361.50" font-size="5.2" font-weight="bold" text-anchor="middle">70</text>
<text x="356.90" y="370.40" font-size="5.45" font-weight="bold" textLength="61.60" lengthAdjust="spacingAndGlyphs">Nucleotide Position (nt)</text>
<text x="307.20" y="309.85" font-size="5.35" font-weight="bold" text-anchor="middle" textLength="57.50" lengthAdjust="spacingAndGlyphs" transform="rotate(-90 307.20 309.85)">SHAPE reactivity (a.u.)</text>
</g>
<g id="panel-d">
<text x="47.90" y="392.50" font-size="12.3" font-weight="bold">d</text>
<text x="121.80" y="396.30" font-size="8.3" font-style="italic" textLength="26.30" lengthAdjust="spacingAndGlyphs">PVRL2</text>
<rect x="87.31" y="479.43" width="3.29" height="5.62" fill="#ffffff" stroke="#3a1518" stroke-width="0.4"/>
<rect x="90.60" y="462.02" width="3.29" height="23.03" fill="#e97a62" stroke="#3a1518" stroke-width="0.4"/>
<rect x="93.89" y="482.59" width="3.29" height="2.46" fill="#ffffff" stroke="#3a1518" stroke-width="0.4"/>
<rect x="97.17" y="473.47" width="3.29" height="11.58" fill="#fcdcd9" stroke="#3a1518" stroke-width="0.4"/>
<rect x="100.47" y="483.65" width="3.29" height="1.40" fill="#ffffff" stroke="#3a1518" stroke-width="0.4"/>
<rect x="103.76" y="483.65" width="3.29" height="1.40" fill="#ffffff" stroke="#3a1518" stroke-width="0.4"/>
<rect x="110.34" y="474.31" width="3.29" height="10.74" fill="#fcdcd9" stroke="#3a1518" stroke-width="0.4"/>
<rect x="113.63" y="474.31" width="3.29" height="10.74" fill="#fcdcd9" stroke="#3a1518" stroke-width="0.4"/>
<rect x="116.92" y="480.49" width="3.29" height="4.56" fill="#ffffff" stroke="#3a1518" stroke-width="0.4"/>
<rect x="126.79" y="480.49" width="3.29" height="4.56" fill="#ffffff" stroke="#3a1518" stroke-width="0.4"/>
<rect x="130.07" y="448.55" width="3.29" height="36.50" fill="#c5384b" stroke="#3a1518" stroke-width="0.4"/>
<rect x="133.36" y="402.56" width="3.29" height="82.48" fill="#c5384b" stroke="#3a1518" stroke-width="0.4"/>
<rect x="136.66" y="467.50" width="3.29" height="17.55" fill="#e97a62" stroke="#3a1518" stroke-width="0.4"/>
<rect x="139.94" y="450.65" width="3.29" height="34.40" fill="#c5384b" stroke="#3a1518" stroke-width="0.4"/>
<rect x="143.23" y="457.32" width="3.29" height="27.73" fill="#c5384b" stroke="#3a1518" stroke-width="0.4"/>
<rect x="146.53" y="464.34" width="3.29" height="20.71" fill="#e97a62" stroke="#3a1518" stroke-width="0.4"/>
<rect x="149.81" y="418.54" width="3.29" height="66.51" fill="#c5384b" stroke="#3a1518" stroke-width="0.4"/>
<rect x="153.10" y="460.13" width="3.29" height="24.92" fill="#c5384b" stroke="#3a1518" stroke-width="0.4"/>
<rect x="156.40" y="475.92" width="3.29" height="9.13" fill="#fcdcd9" stroke="#3a1518" stroke-width="0.4"/>
<rect x="159.68" y="464.83" width="3.29" height="20.22" fill="#e97a62" stroke="#3a1518" stroke-width="0.4"/>
<rect x="162.97" y="481.72" width="3.29" height="3.33" fill="#ffffff" stroke="#3a1518" stroke-width="0.4"/>
<rect x="169.55" y="458.73" width="3.29" height="26.33" fill="#c5384b" stroke="#3a1518" stroke-width="0.4"/>
<rect x="172.84" y="421.17" width="3.29" height="63.88" fill="#c5384b" stroke="#3a1518" stroke-width="0.4"/>
<rect x="176.13" y="462.24" width="3.29" height="22.82" fill="#e97a62" stroke="#3a1518" stroke-width="0.4"/>
<rect x="179.42" y="478.73" width="3.29" height="6.32" fill="#ffffff" stroke="#3a1518" stroke-width="0.4"/>
<rect x="182.72" y="461.01" width="3.29" height="24.04" fill="#c5384b" stroke="#3a1518" stroke-width="0.4"/>
<rect x="186.00" y="452.41" width="3.29" height="32.64" fill="#c5384b" stroke="#3a1518" stroke-width="0.4"/>
<rect x="189.29" y="481.72" width="3.29" height="3.33" fill="#ffffff" stroke="#3a1518" stroke-width="0.4"/>
<rect x="192.59" y="468.55" width="3.29" height="16.50" fill="#e97a62" stroke="#3a1518" stroke-width="0.4"/>
<rect x="195.87" y="476.63" width="3.29" height="8.42" fill="#fcdcd9" stroke="#3a1518" stroke-width="0.4"/>
<path d="M72.40,396.90 L72.40,485.05 L204.00,485.05" stroke="#111" stroke-width="0.9" fill="none" />
<line x1="69.50" y1="485.05" x2="72.40" y2="485.05" stroke="#111" stroke-width="0.8" />
<text x="68.50" y="486.90" font-size="5.1" font-weight="bold" text-anchor="end" textLength="6.90" lengthAdjust="spacingAndGlyphs">0.0</text>
<line x1="69.50" y1="467.50" x2="72.40" y2="467.50" stroke="#111" stroke-width="0.8" />
<text x="68.50" y="469.35" font-size="5.1" font-weight="bold" text-anchor="end" textLength="6.90" lengthAdjust="spacingAndGlyphs">0.5</text>
<line x1="69.50" y1="449.95" x2="72.40" y2="449.95" stroke="#111" stroke-width="0.8" />
<text x="68.50" y="451.80" font-size="5.1" font-weight="bold" text-anchor="end" textLength="6.90" lengthAdjust="spacingAndGlyphs">1.0</text>
<line x1="69.50" y1="432.40" x2="72.40" y2="432.40" stroke="#111" stroke-width="0.8" />
<text x="68.50" y="434.25" font-size="5.1" font-weight="bold" text-anchor="end" textLength="6.90" lengthAdjust="spacingAndGlyphs">1.5</text>
<line x1="69.50" y1="414.85" x2="72.40" y2="414.85" stroke="#111" stroke-width="0.8" />
<text x="68.50" y="416.70" font-size="5.1" font-weight="bold" text-anchor="end" textLength="6.90" lengthAdjust="spacingAndGlyphs">2.0</text>
<line x1="69.50" y1="397.30" x2="72.40" y2="397.30" stroke="#111" stroke-width="0.8" />
<text x="68.50" y="399.15" font-size="5.1" font-weight="bold" text-anchor="end" textLength="6.90" lengthAdjust="spacingAndGlyphs">2.5</text>
<line x1="72.50" y1="485.05" x2="72.50" y2="487.95" stroke="#111" stroke-width="0.8" />
<text x="72.50" y="493.40" font-size="5.2" font-weight="bold" text-anchor="middle">30</text>
<line x1="105.40" y1="485.05" x2="105.40" y2="487.95" stroke="#111" stroke-width="0.8" />
<text x="105.40" y="493.40" font-size="5.2" font-weight="bold" text-anchor="middle">40</text>
<line x1="138.30" y1="485.05" x2="138.30" y2="487.95" stroke="#111" stroke-width="0.8" />
<text x="138.30" y="493.40" font-size="5.2" font-weight="bold" text-anchor="middle">50</text>
<line x1="171.20" y1="485.05" x2="171.20" y2="487.95" stroke="#111" stroke-width="0.8" />
<text x="171.20" y="493.40" font-size="5.2" font-weight="bold" text-anchor="middle">60</text>
<line x1="204.10" y1="485.05" x2="204.10" y2="487.95" stroke="#111" stroke-width="0.8" />
<text x="204.10" y="493.40" font-size="5.2" font-weight="bold" text-anchor="middle">70</text>
<text x="106.90" y="502.30" font-size="5.45" font-weight="bold" textLength="61.60" lengthAdjust="spacingAndGlyphs">Nucleotide Position (nt)</text>
<text x="57.20" y="441.18" font-size="5.35" font-weight="bold" text-anchor="middle" textLength="57.50" lengthAdjust="spacingAndGlyphs" transform="rotate(-90 57.20 441.18)">SHAPE reactivity (a.u.)</text>
</g>
<g id="panel-e">
<text x="302.30" y="392.50" font-size="12.3" font-weight="bold">e</text>
<text x="376.10" y="396.30" font-size="8.3" font-style="italic" textLength="28.10" lengthAdjust="spacingAndGlyphs">REEP6</text>
<rect x="330.57" y="478.08" width="3.45" height="10.72" fill="#ffffff" stroke="#3a1518" stroke-width="0.4"/>
<rect x="337.47" y="458.68" width="3.45" height="30.12" fill="#e97a62" stroke="#3a1518" stroke-width="0.4"/>
<rect x="340.93" y="457.10" width="3.45" height="31.70" fill="#e97a62" stroke="#3a1518" stroke-width="0.4"/>
<rect x="344.38" y="455.59" width="3.45" height="33.21" fill="#e97a62" stroke="#3a1518" stroke-width="0.4"/>
<rect x="347.82" y="473.48" width="3.45" height="15.32" fill="#fcdcd9" stroke="#3a1518" stroke-width="0.4"/>
<rect x="354.72" y="479.36" width="3.45" height="9.44" fill="#ffffff" stroke="#3a1518" stroke-width="0.4"/>
<rect x="358.18" y="461.71" width="3.45" height="27.09" fill="#e97a62" stroke="#3a1518" stroke-width="0.4"/>
<rect x="361.62" y="461.71" width="3.45" height="27.09" fill="#e97a62" stroke="#3a1518" stroke-width="0.4"/>
<rect x="368.52" y="478.31" width="3.45" height="10.49" fill="#ffffff" stroke="#3a1518" stroke-width="0.4"/>
<rect x="371.98" y="472.49" width="3.45" height="16.31" fill="#fcdcd9" stroke="#3a1518" stroke-width="0.4"/>
<rect x="375.43" y="450.23" width="3.45" height="38.57" fill="#e97a62" stroke="#3a1518" stroke-width="0.4"/>
<rect x="378.88" y="445.86" width="3.45" height="42.94" fill="#c5384b" stroke="#3a1518" stroke-width="0.4"/>
<rect x="382.32" y="427.74" width="3.45" height="61.06" fill="#c5384b" stroke="#3a1518" stroke-width="0.4"/>
<rect x="385.77" y="418.01" width="3.45" height="70.79" fill="#c5384b" stroke="#3a1518" stroke-width="0.4"/>
<rect x="392.68" y="432.28" width="3.45" height="56.52" fill="#c5384b" stroke="#3a1518" stroke-width="0.4"/>
<rect x="396.12" y="412.47" width="3.45" height="76.33" fill="#c5384b" stroke="#3a1518" stroke-width="0.4"/>
<rect x="399.57" y="432.28" width="3.45" height="56.52" fill="#c5384b" stroke="#3a1518" stroke-width="0.4"/>
<rect x="403.02" y="441.25" width="3.45" height="47.55" fill="#c5384b" stroke="#3a1518" stroke-width="0.4"/>
<rect x="406.48" y="449.94" width="3.45" height="38.86" fill="#e97a62" stroke="#3a1518" stroke-width="0.4"/>
<rect x="409.93" y="457.63" width="3.45" height="31.17" fill="#e97a62" stroke="#3a1518" stroke-width="0.4"/>
<rect x="413.38" y="464.33" width="3.45" height="24.47" fill="#e97a62" stroke="#3a1518" stroke-width="0.4"/>
<rect x="416.82" y="441.78" width="3.45" height="47.02" fill="#c5384b" stroke="#3a1518" stroke-width="0.4"/>
<rect x="423.73" y="456.35" width="3.45" height="32.45" fill="#e97a62" stroke="#3a1518" stroke-width="0.4"/>
<rect x="427.18" y="453.26" width="3.45" height="35.54" fill="#e97a62" stroke="#3a1518" stroke-width="0.4"/>
<rect x="430.62" y="460.25" width="3.45" height="28.55" fill="#e97a62" stroke="#3a1518" stroke-width="0.4"/>
<rect x="434.07" y="474.23" width="3.45" height="14.57" fill="#fcdcd9" stroke="#3a1518" stroke-width="0.4"/>
<rect x="437.52" y="474.23" width="3.45" height="14.57" fill="#fcdcd9" stroke="#3a1518" stroke-width="0.4"/>
<rect x="440.98" y="475.28" width="3.45" height="13.52" fill="#fcdcd9" stroke="#3a1518" stroke-width="0.4"/>
<rect x="444.43" y="482.16" width="3.45" height="6.64" fill="#ffffff" stroke="#3a1518" stroke-width="0.4"/>
<rect x="447.88" y="470.39" width="3.45" height="18.41" fill="#fcdcd9" stroke="#3a1518" stroke-width="0.4"/>
<path d="M322.10,401.00 L322.10,488.80 L454.00,488.80" stroke="#111" stroke-width="0.9" fill="none" />
<line x1="319.20" y1="488.80" x2="322.10" y2="488.80" stroke="#111" stroke-width="0.8" />
<text x="318.20" y="490.65" font-size="5.1" font-weight="bold" text-anchor="end" textLength="6.90" lengthAdjust="spacingAndGlyphs">0.0</text>
<line x1="319.20" y1="459.67" x2="322.10" y2="459.67" stroke="#111" stroke-width="0.8" />
<text x="318.20" y="461.52" font-size="5.1" font-weight="bold" text-anchor="end" textLength="6.90" lengthAdjust="spacingAndGlyphs">0.5</text>
<line x1="319.20" y1="430.53" x2="322.10" y2="430.53" stroke="#111" stroke-width="0.8" />
<text x="318.20" y="432.38" font-size="5.1" font-weight="bold" text-anchor="end" textLength="6.90" lengthAdjust="spacingAndGlyphs">1.0</text>
<line x1="319.20" y1="401.40" x2="322.10" y2="401.40" stroke="#111" stroke-width="0.8" />
<text x="318.20" y="403.25" font-size="5.1" font-weight="bold" text-anchor="end" textLength="6.90" lengthAdjust="spacingAndGlyphs">1.5</text>
<line x1="332.30" y1="488.80" x2="332.30" y2="491.70" stroke="#111" stroke-width="0.8" />
<text x="332.30" y="497.00" font-size="5.2" font-weight="bold" text-anchor="middle">30</text>
<line x1="366.80" y1="488.80" x2="366.80" y2="491.70" stroke="#111" stroke-width="0.8" />
<text x="366.80" y="497.00" font-size="5.2" font-weight="bold" text-anchor="middle">40</text>
<line x1="401.30" y1="488.80" x2="401.30" y2="491.70" stroke="#111" stroke-width="0.8" />
<text x="401.30" y="497.00" font-size="5.2" font-weight="bold" text-anchor="middle">50</text>
<line x1="435.80" y1="488.80" x2="435.80" y2="491.70" stroke="#111" stroke-width="0.8" />
<text x="435.80" y="497.00" font-size="5.2" font-weight="bold" text-anchor="middle">60</text>
<text x="356.90" y="506.20" font-size="5.45" font-weight="bold" textLength="61.60" lengthAdjust="spacingAndGlyphs">Nucleotide Position (nt)</text>
<text x="307.20" y="445.10" font-size="5.35" font-weight="bold" text-anchor="middle" textLength="57.50" lengthAdjust="spacingAndGlyphs" transform="rotate(-90 307.20 445.10)">SHAPE reactivity (a.u.)</text>
</g>
<g>
<line x1="223.94" y1="351.21" x2="228.25" y2="346.18" stroke="#8a8a8a" stroke-width="0.4" />
<line x1="228.25" y1="346.18" x2="232.55" y2="340.88" stroke="#8a8a8a" stroke-width="0.4" />
<line x1="232.55" y1="340.88" x2="237.29" y2="334.99" stroke="#8a8a8a" stroke-width="0.4" />
<line x1="237.29" y1="334.99" x2="237.29" y2="328.68" stroke="#8a8a8a" stroke-width="0.4" />
<line x1="237.29" y1="328.68" x2="242.02" y2="323.23" stroke="#8a8a8a" stroke-width="0.4" />
<line x1="242.02" y1="323.23" x2="242.02" y2="316.34" stroke="#8a8a8a" stroke-width="0.4" />
<line x1="242.02" y1="316.34" x2="242.02" y2="309.16" stroke="#8a8a8a" stroke-width="0.4" />
<line x1="242.02" y1="309.16" x2="242.02" y2="301.99" stroke="#8a8a8a" stroke-width="0.4" />
<line x1="242.02" y1="301.99" x2="242.02" y2="294.53" stroke="#8a8a8a" stroke-width="0.4" />
<line x1="242.02" y1="294.53" x2="242.02" y2="287.35" stroke="#8a8a8a" stroke-width="0.4" />
<line x1="242.02" y1="287.35" x2="242.02" y2="280.61" stroke="#8a8a8a" stroke-width="0.4" />
<line x1="242.02" y1="280.61" x2="235.42" y2="277.60" stroke="#8a8a8a" stroke-width="0.4" />
<line x1="235.42" y1="277.60" x2="231.26" y2="272.57" stroke="#8a8a8a" stroke-width="0.4" />
<line x1="231.26" y1="272.57" x2="230.11" y2="265.83" stroke="#8a8a8a" stroke-width="0.4" />
<line x1="230.11" y1="265.83" x2="231.98" y2="259.37" stroke="#8a8a8a" stroke-width="0.4" />
<line x1="231.98" y1="259.37" x2="236.86" y2="254.64" stroke="#8a8a8a" stroke-width="0.4" />
<line x1="236.86" y1="254.64" x2="243.03" y2="253.20" stroke="#8a8a8a" stroke-width="0.4" />
<line x1="243.03" y1="253.20" x2="249.91" y2="254.35" stroke="#8a8a8a" stroke-width="0.4" />
<line x1="249.91" y1="254.35" x2="255.22" y2="258.37" stroke="#8a8a8a" stroke-width="0.4" />
<line x1="255.22" y1="258.37" x2="258.09" y2="264.39" stroke="#8a8a8a" stroke-width="0.4" />
<line x1="258.09" y1="264.39" x2="258.09" y2="270.85" stroke="#8a8a8a" stroke-width="0.4" />
<line x1="258.09" y1="270.85" x2="254.22" y2="276.59" stroke="#8a8a8a" stroke-width="0.4" />
<line x1="254.22" y1="276.59" x2="248.77" y2="280.61" stroke="#8a8a8a" stroke-width="0.4" />
<line x1="248.77" y1="280.61" x2="248.77" y2="287.35" stroke="#8a8a8a" stroke-width="0.4" />
<line x1="248.77" y1="287.35" x2="249.20" y2="294.53" stroke="#8a8a8a" stroke-width="0.4" />
<line x1="249.20" y1="294.53" x2="249.20" y2="301.99" stroke="#8a8a8a" stroke-width="0.4" />
<line x1="249.20" y1="301.99" x2="249.20" y2="309.16" stroke="#8a8a8a" stroke-width="0.4" />
<line x1="249.20" y1="309.16" x2="248.77" y2="316.34" stroke="#8a8a8a" stroke-width="0.4" />
<line x1="248.77" y1="316.34" x2="248.77" y2="323.23" stroke="#8a8a8a" stroke-width="0.4" />
<line x1="248.77" y1="323.23" x2="253.07" y2="328.25" stroke="#8a8a8a" stroke-width="0.4" />
<line x1="253.07" y1="328.25" x2="253.79" y2="334.71" stroke="#8a8a8a" stroke-width="0.4" />
<line x1="253.79" y1="334.71" x2="248.77" y2="339.01" stroke="#8a8a8a" stroke-width="0.4" />
<line x1="248.77" y1="339.01" x2="242.02" y2="339.30" stroke="#8a8a8a" stroke-width="0.4" />
<line x1="242.02" y1="339.30" x2="237.72" y2="344.75" stroke="#8a8a8a" stroke-width="0.4" />
<line x1="237.72" y1="344.75" x2="233.41" y2="350.20" stroke="#8a8a8a" stroke-width="0.4" />
<line x1="233.41" y1="350.20" x2="229.11" y2="355.22" stroke="#8a8a8a" stroke-width="0.4" />
<line x1="242.02" y1="280.61" x2="248.77" y2="280.61" stroke="#b5b5b5" stroke-width="0.3" />
<circle cx="245.39" cy="280.61" r="0.45" fill="#e0303a"/>
<line x1="242.02" y1="287.35" x2="248.77" y2="287.35" stroke="#b5b5b5" stroke-width="0.3" />
<circle cx="245.39" cy="287.35" r="0.45" fill="#e0303a"/>
<line x1="242.02" y1="294.53" x2="249.20" y2="294.53" stroke="#b5b5b5" stroke-width="0.3" />
<circle cx="245.61" cy="294.53" r="0.45" fill="#e0303a"/>
<line x1="242.02" y1="301.99" x2="249.20" y2="301.99" stroke="#b5b5b5" stroke-width="0.3" />
<circle cx="245.61" cy="301.99" r="0.45" fill="#e0303a"/>
<line x1="242.02" y1="309.16" x2="249.20" y2="309.16" stroke="#b5b5b5" stroke-width="0.3" />
<circle cx="245.61" cy="309.16" r="0.45" fill="#e0303a"/>
<line x1="242.02" y1="316.34" x2="248.77" y2="316.34" stroke="#b5b5b5" stroke-width="0.3" />
<circle cx="245.39" cy="316.34" r="0.45" fill="#e0303a"/>
<line x1="242.02" y1="323.23" x2="248.77" y2="323.23" stroke="#b5b5b5" stroke-width="0.3" />
<circle cx="245.39" cy="323.23" r="0.45" fill="#e0303a"/>
<line x1="237.29" y1="334.99" x2="242.02" y2="339.30" stroke="#b5b5b5" stroke-width="0.3" />
<circle cx="239.65" cy="337.14" r="0.45" fill="#e0303a"/>
<line x1="232.55" y1="340.88" x2="237.72" y2="344.75" stroke="#b5b5b5" stroke-width="0.3" />
<circle cx="235.13" cy="342.81" r="0.45" fill="#e0303a"/>
<line x1="228.25" y1="346.18" x2="233.41" y2="350.20" stroke="#b5b5b5" stroke-width="0.3" />
<circle cx="230.83" cy="348.19" r="0.45" fill="#e0303a"/>
<line x1="223.94" y1="351.21" x2="229.11" y2="355.22" stroke="#b5b5b5" stroke-width="0.3" />
<circle cx="226.52" cy="353.22" r="0.45" fill="#e0303a"/>
<circle cx="223.94" cy="351.21" r="1.70" fill="#ffffff"/>
<text x="223.94" y="352.56" font-size="3.8" font-weight="bold" text-anchor="middle" fill="#0a0a0a">A</text>
<circle cx="228.25" cy="346.18" r="1.70" fill="#ffffff"/>
<text x="228.25" y="347.53" font-size="3.8" font-weight="bold" text-anchor="middle" fill="#0a0a0a">G</text>
<circle cx="232.55" cy="340.88" r="2.60" fill="#e9805f"/>
<text x="232.55" y="342.23" font-size="3.8" font-weight="bold" text-anchor="middle" fill="#0a0a0a">G</text>
<circle cx="237.29" cy="334.99" r="2.60" fill="#e9805f"/>
<text x="237.29" y="336.34" font-size="3.8" font-weight="bold" text-anchor="middle" fill="#0a0a0a">G</text>
<circle cx="237.29" cy="328.68" r="2.60" fill="#fbd3d0"/>
<text x="237.29" y="330.03" font-size="3.8" font-weight="bold" text-anchor="middle" fill="#0a0a0a">A</text>
<circle cx="242.02" cy="323.23" r="2.60" fill="#e9805f"/>
<text x="242.02" y="324.58" font-size="3.8" font-weight="bold" text-anchor="middle" fill="#0a0a0a">G</text>
<circle cx="242.02" cy="316.34" r="1.70" fill="#ffffff"/>
<text x="242.02" y="317.69" font-size="3.8" font-weight="bold" text-anchor="middle" fill="#0a0a0a">G</text>
<circle cx="242.02" cy="309.16" r="1.70" fill="#ffffff"/>
<text x="242.02" y="310.51" font-size="3.8" font-weight="bold" text-anchor="middle" fill="#0a0a0a">A</text>
<circle cx="242.02" cy="301.99" r="2.60" fill="#e9805f"/>
<text x="242.02" y="303.34" font-size="3.8" font-weight="bold" text-anchor="middle" fill="#0a0a0a">G</text>
<circle cx="242.02" cy="294.53" r="1.70" fill="#ffffff"/>
<text x="242.02" y="295.88" font-size="3.8" font-weight="bold" text-anchor="middle" fill="#0a0a0a">G</text>
<circle cx="242.02" cy="287.35" r="1.70" fill="#ffffff"/>
<text x="242.02" y="288.70" font-size="3.8" font-weight="bold" text-anchor="middle" fill="#0a0a0a">C</text>
<circle cx="242.02" cy="280.61" r="1.70" fill="#ffffff"/>
<text x="242.02" y="281.96" font-size="3.8" font-weight="bold" text-anchor="middle" fill="#0a0a0a">C</text>
<circle cx="235.42" cy="277.60" r="1.70" fill="#ffffff"/>
<text x="235.42" y="278.95" font-size="3.8" font-weight="bold" text-anchor="middle" fill="#0a0a0a">A</text>
<circle cx="231.26" cy="272.57" r="2.60" fill="#c0354a"/>
<text x="231.26" y="273.92" font-size="3.8" font-weight="bold" text-anchor="middle" fill="#0a0a0a">C</text>
<circle cx="230.11" cy="265.83" r="2.60" fill="#e9805f"/>
<text x="230.11" y="267.18" font-size="3.8" font-weight="bold" text-anchor="middle" fill="#0a0a0a">C</text>
<circle cx="231.98" cy="259.37" r="2.60" fill="#e9805f"/>
<text x="231.98" y="260.72" font-size="3.8" font-weight="bold" text-anchor="middle" fill="#0a0a0a">C</text>
<circle cx="236.86" cy="254.64" r="2.60" fill="#c0354a"/>
<text x="236.86" y="255.99" font-size="3.8" font-weight="bold" text-anchor="middle" fill="#0a0a0a">C</text>
<circle cx="243.03" cy="253.20" r="1.70" fill="#ffffff"/>
<text x="243.03" y="254.55" font-size="3.8" font-weight="bold" text-anchor="middle" fill="#0a0a0a">U</text>
<circle cx="249.91" cy="254.35" r="1.70" fill="#ffffff"/>
<text x="249.91" y="255.70" font-size="3.8" font-weight="bold" text-anchor="middle" fill="#0a0a0a">C</text>
<circle cx="255.22" cy="258.37" r="1.70" fill="#ffffff"/>
<text x="255.22" y="259.72" font-size="3.8" font-weight="bold" text-anchor="middle" fill="#0a0a0a">C</text>
<circle cx="258.09" cy="264.39" r="2.60" fill="#e9805f"/>
<text x="258.09" y="265.74" font-size="3.8" font-weight="bold" text-anchor="middle" fill="#0a0a0a">A</text>
<circle cx="258.09" cy="270.85" r="2.60" fill="#e9805f"/>
<text x="258.09" y="272.20" font-size="3.8" font-weight="bold" text-anchor="middle" fill="#0a0a0a">A</text>
<circle cx="254.22" cy="276.59" r="2.60" fill="#e9805f"/>
<text x="254.22" y="277.94" font-size="3.8" font-weight="bold" text-anchor="middle" fill="#0a0a0a">G</text>
<circle cx="248.77" cy="280.61" r="1.70" fill="#ffffff"/>
<text x="248.77" y="281.96" font-size="3.8" font-weight="bold" text-anchor="middle" fill="#0a0a0a">G</text>
<circle cx="248.77" cy="287.35" r="1.70" fill="#ffffff"/>
<text x="248.77" y="288.70" font-size="3.8" font-weight="bold" text-anchor="middle" fill="#0a0a0a">G</text>
<circle cx="249.20" cy="294.53" r="2.60" fill="#e9805f"/>
<text x="249.20" y="295.88" font-size="3.8" font-weight="bold" text-anchor="middle" fill="#0a0a0a">C</text>
<circle cx="249.20" cy="301.99" r="2.60" fill="#fbd3d0"/>
<text x="249.20" y="303.34" font-size="3.8" font-weight="bold" text-anchor="middle" fill="#0a0a0a">U</text>
<circle cx="249.20" cy="309.16" r="2.60" fill="#fbd3d0"/>
<text x="249.20" y="310.51" font-size="3.8" font-weight="bold" text-anchor="middle" fill="#0a0a0a">U</text>
<circle cx="248.77" cy="316.34" r="2.60" fill="#c0354a"/>
<text x="248.77" y="317.69" font-size="3.8" font-weight="bold" text-anchor="middle" fill="#0a0a0a">C</text>
<circle cx="248.77" cy="323.23" r="2.60" fill="#fbd3d0"/>
<text x="248.77" y="324.58" font-size="3.8" font-weight="bold" text-anchor="middle" fill="#0a0a0a">U</text>
<circle cx="253.07" cy="328.25" r="1.70" fill="#ffffff"/>
<text x="253.07" y="329.60" font-size="3.8" font-weight="bold" text-anchor="middle" fill="#0a0a0a">U</text>
<circle cx="253.79" cy="334.71" r="1.70" fill="#ffffff"/>
<text x="253.79" y="336.06" font-size="3.8" font-weight="bold" text-anchor="middle" fill="#0a0a0a">C</text>
<circle cx="248.77" cy="339.01" r="1.70" fill="#ffffff"/>
<text x="248.77" y="340.36" font-size="3.8" font-weight="bold" text-anchor="middle" fill="#0a0a0a">A</text>
<circle cx="242.02" cy="339.30" r="2.60" fill="#fbd3d0"/>
<text x="242.02" y="340.65" font-size="3.8" font-weight="bold" text-anchor="middle" fill="#0a0a0a">C</text>
<circle cx="237.72" cy="344.75" r="1.70" fill="#ffffff"/>
<text x="237.72" y="346.10" font-size="3.8" font-weight="bold" text-anchor="middle" fill="#0a0a0a">C</text>
<circle cx="233.41" cy="350.20" r="1.70" fill="#ffffff"/>
<text x="233.41" y="351.55" font-size="3.8" font-weight="bold" text-anchor="middle" fill="#0a0a0a">C</text>
<circle cx="229.11" cy="355.22" r="1.70" fill="#ffffff"/>
<text x="229.11" y="356.57" font-size="3.8" font-weight="bold" text-anchor="middle" fill="#0a0a0a">U</text>
<text x="218.63" y="352.00" font-size="5.0" font-weight="bold" text-anchor="middle">5'</text>
<text x="234.85" y="360.18" font-size="5.0" font-weight="bold" text-anchor="middle">3'</text>
<polygon points="231.11,248.60 235.21,246.30 235.21,251.30" fill="#2f74c0"/>
</g>
<g>
<line x1="487.96" y1="357.38" x2="487.67" y2="350.20" stroke="#8a8a8a" stroke-width="0.4" />
<line x1="487.67" y1="350.20" x2="487.24" y2="342.88" stroke="#8a8a8a" stroke-width="0.4" />
<line x1="487.24" y1="342.88" x2="486.52" y2="335.85" stroke="#8a8a8a" stroke-width="0.4" />
<line x1="486.52" y1="335.85" x2="486.24" y2="328.53" stroke="#8a8a8a" stroke-width="0.4" />
<line x1="486.24" y1="328.53" x2="485.52" y2="321.50" stroke="#8a8a8a" stroke-width="0.4" />
<line x1="485.52" y1="321.50" x2="479.64" y2="317.92" stroke="#8a8a8a" stroke-width="0.4" />
<line x1="479.64" y1="317.92" x2="477.20" y2="311.46" stroke="#8a8a8a" stroke-width="0.4" />
<line x1="477.20" y1="311.46" x2="479.64" y2="305.29" stroke="#8a8a8a" stroke-width="0.4" />
<line x1="479.64" y1="305.29" x2="485.81" y2="301.99" stroke="#8a8a8a" stroke-width="0.4" />
<line x1="485.81" y1="301.99" x2="486.24" y2="294.81" stroke="#8a8a8a" stroke-width="0.4" />
<line x1="486.24" y1="294.81" x2="486.24" y2="287.35" stroke="#8a8a8a" stroke-width="0.4" />
<line x1="486.24" y1="287.35" x2="486.24" y2="280.61" stroke="#8a8a8a" stroke-width="0.4" />
<line x1="486.24" y1="280.61" x2="480.07" y2="277.60" stroke="#8a8a8a" stroke-width="0.4" />
<line x1="480.07" y1="277.60" x2="475.76" y2="271.86" stroke="#8a8a8a" stroke-width="0.4" />
<line x1="475.76" y1="271.86" x2="475.04" y2="265.11" stroke="#8a8a8a" stroke-width="0.4" />
<line x1="475.04" y1="265.11" x2="477.91" y2="258.65" stroke="#8a8a8a" stroke-width="0.4" />
<line x1="477.91" y1="258.65" x2="483.65" y2="255.07" stroke="#8a8a8a" stroke-width="0.4" />
<line x1="483.65" y1="255.07" x2="490.54" y2="254.35" stroke="#8a8a8a" stroke-width="0.4" />
<line x1="490.54" y1="254.35" x2="496.57" y2="256.93" stroke="#8a8a8a" stroke-width="0.4" />
<line x1="496.57" y1="256.93" x2="500.87" y2="262.67" stroke="#8a8a8a" stroke-width="0.4" />
<line x1="500.87" y1="262.67" x2="501.59" y2="269.70" stroke="#8a8a8a" stroke-width="0.4" />
<line x1="501.59" y1="269.70" x2="498.43" y2="275.87" stroke="#8a8a8a" stroke-width="0.4" />
<line x1="498.43" y1="275.87" x2="493.27" y2="280.18" stroke="#8a8a8a" stroke-width="0.4" />
<line x1="493.27" y1="280.18" x2="493.27" y2="287.35" stroke="#8a8a8a" stroke-width="0.4" />
<line x1="493.27" y1="287.35" x2="493.27" y2="294.81" stroke="#8a8a8a" stroke-width="0.4" />
<line x1="493.27" y1="294.81" x2="492.55" y2="302.71" stroke="#8a8a8a" stroke-width="0.4" />
<line x1="492.55" y1="302.71" x2="496.86" y2="308.59" stroke="#8a8a8a" stroke-width="0.4" />
<line x1="496.86" y1="308.59" x2="496.86" y2="315.05" stroke="#8a8a8a" stroke-width="0.4" />
<line x1="496.86" y1="315.05" x2="492.26" y2="321.07" stroke="#8a8a8a" stroke-width="0.4" />
<line x1="492.26" y1="321.07" x2="492.98" y2="328.53" stroke="#8a8a8a" stroke-width="0.4" />
<line x1="492.98" y1="328.53" x2="493.70" y2="335.42" stroke="#8a8a8a" stroke-width="0.4" />
<line x1="493.70" y1="335.42" x2="494.13" y2="342.88" stroke="#8a8a8a" stroke-width="0.4" />
<line x1="494.13" y1="342.88" x2="494.42" y2="350.06" stroke="#8a8a8a" stroke-width="0.4" />
<line x1="494.42" y1="350.06" x2="494.85" y2="356.95" stroke="#8a8a8a" stroke-width="0.4" />
<line x1="486.24" y1="280.61" x2="493.27" y2="280.18" stroke="#b5b5b5" stroke-width="0.3" />
<circle cx="489.75" cy="280.39" r="0.45" fill="#e0303a"/>
<line x1="486.24" y1="287.35" x2="493.27" y2="287.35" stroke="#b5b5b5" stroke-width="0.3" />
<circle cx="489.75" cy="287.35" r="0.45" fill="#e0303a"/>
<line x1="486.24" y1="294.81" x2="493.27" y2="294.81" stroke="#b5b5b5" stroke-width="0.3" />
<circle cx="489.75" cy="294.81" r="0.45" fill="#e0303a"/>
<line x1="485.81" y1="301.99" x2="492.55" y2="302.71" stroke="#b5b5b5" stroke-width="0.3" />
<circle cx="489.18" cy="302.35" r="0.45" fill="#e0303a"/>
<line x1="485.52" y1="321.50" x2="492.26" y2="321.07" stroke="#b5b5b5" stroke-width="0.3" />
<circle cx="488.89" cy="321.29" r="0.45" fill="#e0303a"/>
<line x1="486.24" y1="328.53" x2="492.98" y2="328.53" stroke="#b5b5b5" stroke-width="0.3" />
<circle cx="489.61" cy="328.53" r="0.45" fill="#e0303a"/>
<line x1="486.52" y1="335.85" x2="493.70" y2="335.42" stroke="#b5b5b5" stroke-width="0.3" />
<circle cx="490.11" cy="335.64" r="0.45" fill="#e0303a"/>
<line x1="487.24" y1="342.88" x2="494.13" y2="342.88" stroke="#b5b5b5" stroke-width="0.3" />
<circle cx="490.69" cy="342.88" r="0.45" fill="#e0303a"/>
<line x1="487.67" y1="350.20" x2="494.42" y2="350.06" stroke="#b5b5b5" stroke-width="0.3" />
<circle cx="491.04" cy="350.13" r="0.45" fill="#e0303a"/>
<line x1="487.96" y1="357.38" x2="494.85" y2="356.95" stroke="#b5b5b5" stroke-width="0.3" />
<circle cx="491.40" cy="357.16" r="0.45" fill="#e0303a"/>
<circle cx="487.96" cy="357.38" r="2.60" fill="#ffffff" stroke="#bdbdbd" stroke-width="0.3"/>
<text x="487.96" y="358.73" font-size="3.8" font-weight="bold" text-anchor="middle" fill="#0a0a0a">C</text>
<circle cx="487.67" cy="350.20" r="2.60" fill="#ffffff" stroke="#bdbdbd" stroke-width="0.3"/>
<text x="487.67" y="351.55" font-size="3.8" font-weight="bold" text-anchor="middle" fill="#0a0a0a">G</text>
<circle cx="487.24" cy="342.88" r="2.60" fill="#fbd3d0"/>
<text x="487.24" y="344.23" font-size="3.8" font-weight="bold" text-anchor="middle" fill="#0a0a0a">A</text>
<circle cx="486.52" cy="335.85" r="2.60" fill="#ffffff" stroke="#bdbdbd" stroke-width="0.3"/>
<text x="486.52" y="337.20" font-size="3.8" font-weight="bold" text-anchor="middle" fill="#0a0a0a">C</text>
<circle cx="486.24" cy="328.53" r="2.60" fill="#ffffff" stroke="#bdbdbd" stroke-width="0.3"/>
<text x="486.24" y="329.88" font-size="3.8" font-weight="bold" text-anchor="middle" fill="#0a0a0a">C</text>
<circle cx="485.52" cy="321.50" r="2.60" fill="#e9805f"/>
<text x="485.52" y="322.85" font-size="3.8" font-weight="bold" text-anchor="middle" fill="#0a0a0a">U</text>
<circle cx="479.64" cy="317.92" r="2.60" fill="#fbd3d0"/>
<text x="479.64" y="319.27" font-size="3.8" font-weight="bold" text-anchor="middle" fill="#0a0a0a">A</text>
<circle cx="477.20" cy="311.46" r="2.60" fill="#fbd3d0"/>
<text x="477.20" y="312.81" font-size="3.8" font-weight="bold" text-anchor="middle" fill="#0a0a0a">C</text>
<circle cx="479.64" cy="305.29" r="2.60" fill="#fbd3d0"/>
<text x="479.64" y="306.64" font-size="3.8" font-weight="bold" text-anchor="middle" fill="#0a0a0a">A</text>
<circle cx="485.81" cy="301.99" r="2.60" fill="#ffffff" stroke="#bdbdbd" stroke-width="0.3"/>
<text x="485.81" y="303.34" font-size="3.8" font-weight="bold" text-anchor="middle" fill="#0a0a0a">G</text>
<circle cx="486.24" cy="294.81" r="2.60" fill="#ffffff" stroke="#bdbdbd" stroke-width="0.3"/>
<text x="486.24" y="296.16" font-size="3.8" font-weight="bold" text-anchor="middle" fill="#0a0a0a">U</text>
<circle cx="486.24" cy="287.35" r="2.60" fill="#ffffff" stroke="#bdbdbd" stroke-width="0.3"/>
<text x="486.24" y="288.70" font-size="3.8" font-weight="bold" text-anchor="middle" fill="#0a0a0a">C</text>
<circle cx="486.24" cy="280.61" r="2.60" fill="#c0354a"/>
<text x="486.24" y="281.96" font-size="3.8" font-weight="bold" text-anchor="middle" fill="#0a0a0a">U</text>
<circle cx="480.07" cy="277.60" r="2.60" fill="#c0354a"/>
<text x="480.07" y="278.95" font-size="3.8" font-weight="bold" text-anchor="middle" fill="#0a0a0a">C</text>
<circle cx="475.76" cy="271.86" r="2.60" fill="#c0354a"/>
<text x="475.76" y="273.21" font-size="3.8" font-weight="bold" text-anchor="middle" fill="#0a0a0a">U</text>
<circle cx="475.04" cy="265.11" r="2.60" fill="#c0354a"/>
<text x="475.04" y="266.46" font-size="3.8" font-weight="bold" text-anchor="middle" fill="#0a0a0a">A</text>
<circle cx="477.91" cy="258.65" r="2.60" fill="#c0354a"/>
<text x="477.91" y="260.00" font-size="3.8" font-weight="bold" text-anchor="middle" fill="#0a0a0a">C</text>
<circle cx="483.65" cy="255.07" r="2.60" fill="#c0354a"/>
<text x="483.65" y="256.42" font-size="3.8" font-weight="bold" text-anchor="middle" fill="#0a0a0a">C</text>
<circle cx="490.54" cy="254.35" r="2.60" fill="#c0354a"/>
<text x="490.54" y="255.70" font-size="3.8" font-weight="bold" text-anchor="middle" fill="#0a0a0a">C</text>
<circle cx="496.57" cy="256.93" r="2.60" fill="#c0354a"/>
<text x="496.57" y="258.28" font-size="3.8" font-weight="bold" text-anchor="middle" fill="#0a0a0a">U</text>
<circle cx="500.87" cy="262.67" r="2.60" fill="#c0354a"/>
<text x="500.87" y="264.02" font-size="3.8" font-weight="bold" text-anchor="middle" fill="#0a0a0a">C</text>
<circle cx="501.59" cy="269.70" r="2.60" fill="#c0354a"/>
<text x="501.59" y="271.05" font-size="3.8" font-weight="bold" text-anchor="middle" fill="#0a0a0a">C</text>
<circle cx="498.43" cy="275.87" r="2.60" fill="#fbd3d0"/>
<text x="498.43" y="277.22" font-size="3.8" font-weight="bold" text-anchor="middle" fill="#0a0a0a">A</text>
<circle cx="493.27" cy="280.18" r="2.60" fill="#ffffff" stroke="#bdbdbd" stroke-width="0.3"/>
<text x="493.27" y="281.53" font-size="3.8" font-weight="bold" text-anchor="middle" fill="#0a0a0a">A</text>
<circle cx="493.27" cy="287.35" r="2.60" fill="#ffffff" stroke="#bdbdbd" stroke-width="0.3"/>
<text x="493.27" y="288.70" font-size="3.8" font-weight="bold" text-anchor="middle" fill="#0a0a0a">G</text>
<circle cx="493.27" cy="294.81" r="2.60" fill="#e9805f"/>
<text x="493.27" y="296.16" font-size="3.8" font-weight="bold" text-anchor="middle" fill="#0a0a0a">A</text>
<circle cx="492.55" cy="302.71" r="2.60" fill="#c0354a"/>
<text x="492.55" y="304.06" font-size="3.8" font-weight="bold" text-anchor="middle" fill="#0a0a0a">C</text>
<circle cx="496.86" cy="308.59" r="2.60" fill="#c0354a"/>
<text x="496.86" y="309.94" font-size="3.8" font-weight="bold" text-anchor="middle" fill="#0a0a0a">C</text>
<circle cx="496.86" cy="315.05" r="2.60" fill="#c0354a"/>
<text x="496.86" y="316.40" font-size="3.8" font-weight="bold" text-anchor="middle" fill="#0a0a0a">A</text>
<circle cx="492.26" cy="321.07" r="2.60" fill="#c0354a"/>
<text x="492.26" y="322.42" font-size="3.8" font-weight="bold" text-anchor="middle" fill="#0a0a0a">A</text>
<circle cx="492.98" cy="328.53" r="2.60" fill="#c0354a"/>
<text x="492.98" y="329.88" font-size="3.8" font-weight="bold" text-anchor="middle" fill="#0a0a0a">G</text>
<circle cx="493.70" cy="335.42" r="2.60" fill="#e9805f"/>
<text x="493.70" y="336.77" font-size="3.8" font-weight="bold" text-anchor="middle" fill="#0a0a0a">G</text>
<circle cx="494.13" cy="342.88" r="2.60" fill="#c0354a"/>
<text x="494.13" y="344.23" font-size="3.8" font-weight="bold" text-anchor="middle" fill="#0a0a0a">G</text>
<circle cx="494.42" cy="350.06" r="2.60" fill="#c0354a"/>
<text x="494.42" y="351.41" font-size="3.8" font-weight="bold" text-anchor="middle" fill="#0a0a0a">G</text>
<circle cx="494.85" cy="356.95" r="2.60" fill="#e9805f"/>
<text x="494.85" y="358.30" font-size="3.8" font-weight="bold" text-anchor="middle" fill="#0a0a0a">C</text>
<text x="481.50" y="361.19" font-size="5.0" font-weight="bold" text-anchor="middle">5'</text>
<text x="503.03" y="360.90" font-size="5.0" font-weight="bold" text-anchor="middle">3'</text>
<polygon points="487.94,246.12 493.14,246.12 490.54,250.72" fill="#2f74c0"/>
</g>
<g>
<line x1="234.70" y1="495.53" x2="234.70" y2="488.65" stroke="#8a8a8a" stroke-width="0.4" />
<line x1="234.70" y1="488.65" x2="239.44" y2="483.34" stroke="#8a8a8a" stroke-width="0.4" />
<line x1="239.44" y1="483.34" x2="239.73" y2="475.88" stroke="#8a8a8a" stroke-width="0.4" />
<line x1="239.73" y1="475.88" x2="239.87" y2="467.98" stroke="#8a8a8a" stroke-width="0.4" />
<line x1="239.87" y1="467.98" x2="240.16" y2="460.38" stroke="#8a8a8a" stroke-width="0.4" />
<line x1="240.16" y1="460.38" x2="240.59" y2="452.49" stroke="#8a8a8a" stroke-width="0.4" />
<line x1="240.59" y1="452.49" x2="240.87" y2="444.59" stroke="#8a8a8a" stroke-width="0.4" />
<line x1="240.87" y1="444.59" x2="240.87" y2="436.99" stroke="#8a8a8a" stroke-width="0.4" />
<line x1="240.87" y1="436.99" x2="240.87" y2="429.24" stroke="#8a8a8a" stroke-width="0.4" />
<line x1="240.87" y1="429.24" x2="240.44" y2="421.35" stroke="#8a8a8a" stroke-width="0.4" />
<line x1="240.44" y1="421.35" x2="239.44" y2="413.74" stroke="#8a8a8a" stroke-width="0.4" />
<line x1="239.44" y1="413.74" x2="232.69" y2="410.87" stroke="#8a8a8a" stroke-width="0.4" />
<line x1="232.69" y1="410.87" x2="227.96" y2="405.56" stroke="#8a8a8a" stroke-width="0.4" />
<line x1="227.96" y1="405.56" x2="227.24" y2="397.96" stroke="#8a8a8a" stroke-width="0.4" />
<line x1="227.24" y1="397.96" x2="230.11" y2="391.50" stroke="#8a8a8a" stroke-width="0.4" />
<line x1="230.11" y1="391.50" x2="235.85" y2="387.20" stroke="#8a8a8a" stroke-width="0.4" />
<line x1="235.85" y1="387.20" x2="242.74" y2="386.19" stroke="#8a8a8a" stroke-width="0.4" />
<line x1="242.74" y1="386.19" x2="250.20" y2="388.92" stroke="#8a8a8a" stroke-width="0.4" />
<line x1="250.20" y1="388.92" x2="254.50" y2="394.37" stroke="#8a8a8a" stroke-width="0.4" />
<line x1="254.50" y1="394.37" x2="255.51" y2="401.55" stroke="#8a8a8a" stroke-width="0.4" />
<line x1="255.51" y1="401.55" x2="252.78" y2="408.43" stroke="#8a8a8a" stroke-width="0.4" />
<line x1="252.78" y1="408.43" x2="246.90" y2="413.31" stroke="#8a8a8a" stroke-width="0.4" />
<line x1="246.90" y1="413.31" x2="247.62" y2="420.92" stroke="#8a8a8a" stroke-width="0.4" />
<line x1="247.62" y1="420.92" x2="248.05" y2="429.24" stroke="#8a8a8a" stroke-width="0.4" />
<line x1="248.05" y1="429.24" x2="248.48" y2="436.99" stroke="#8a8a8a" stroke-width="0.4" />
<line x1="248.48" y1="436.99" x2="248.48" y2="444.59" stroke="#8a8a8a" stroke-width="0.4" />
<line x1="248.48" y1="444.59" x2="248.05" y2="452.49" stroke="#8a8a8a" stroke-width="0.4" />
<line x1="248.05" y1="452.49" x2="247.76" y2="460.38" stroke="#8a8a8a" stroke-width="0.4" />
<line x1="247.76" y1="460.38" x2="247.62" y2="468.27" stroke="#8a8a8a" stroke-width="0.4" />
<line x1="247.62" y1="468.27" x2="247.62" y2="475.88" stroke="#8a8a8a" stroke-width="0.4" />
<line x1="247.62" y1="475.88" x2="247.04" y2="483.34" stroke="#8a8a8a" stroke-width="0.4" />
<line x1="247.04" y1="483.34" x2="252.07" y2="488.65" stroke="#8a8a8a" stroke-width="0.4" />
<line x1="252.07" y1="488.65" x2="252.07" y2="495.53" stroke="#8a8a8a" stroke-width="0.4" />
<line x1="239.44" y1="413.74" x2="246.90" y2="413.31" stroke="#b5b5b5" stroke-width="0.3" />
<circle cx="243.17" cy="413.53" r="0.45" fill="#e0303a"/>
<line x1="240.44" y1="421.35" x2="247.62" y2="420.92" stroke="#b5b5b5" stroke-width="0.3" />
<circle cx="244.03" cy="421.13" r="0.45" fill="#e0303a"/>
<line x1="240.87" y1="429.24" x2="248.05" y2="429.24" stroke="#b5b5b5" stroke-width="0.3" />
<circle cx="244.46" cy="429.24" r="0.45" fill="#e0303a"/>
<line x1="240.87" y1="436.99" x2="248.48" y2="436.99" stroke="#b5b5b5" stroke-width="0.3" />
<circle cx="244.68" cy="436.99" r="0.45" fill="#e0303a"/>
<line x1="240.87" y1="444.59" x2="248.48" y2="444.59" stroke="#b5b5b5" stroke-width="0.3" />
<circle cx="244.68" cy="444.59" r="0.45" fill="#e0303a"/>
<line x1="240.59" y1="452.49" x2="248.05" y2="452.49" stroke="#b5b5b5" stroke-width="0.3" />
<circle cx="244.32" cy="452.49" r="0.45" fill="#e0303a"/>
<line x1="240.16" y1="460.38" x2="247.76" y2="460.38" stroke="#b5b5b5" stroke-width="0.3" />
<circle cx="243.96" cy="460.38" r="0.45" fill="#e0303a"/>
<line x1="239.87" y1="467.98" x2="247.62" y2="468.27" stroke="#b5b5b5" stroke-width="0.3" />
<circle cx="243.74" cy="468.13" r="0.45" fill="#e0303a"/>
<line x1="239.73" y1="475.88" x2="247.62" y2="475.88" stroke="#b5b5b5" stroke-width="0.3" />
<circle cx="243.67" cy="475.88" r="0.45" fill="#e0303a"/>
<line x1="239.44" y1="483.34" x2="247.04" y2="483.34" stroke="#b5b5b5" stroke-width="0.3" />
<circle cx="243.24" cy="483.34" r="0.45" fill="#e0303a"/>
<circle cx="234.70" cy="495.53" r="1.70" fill="#ffffff"/>
<text x="234.70" y="496.88" font-size="3.8" font-weight="bold" text-anchor="middle" fill="#0a0a0a">C</text>
<circle cx="234.70" cy="488.65" r="2.60" fill="#e9805f"/>
<text x="234.70" y="490.00" font-size="3.8" font-weight="bold" text-anchor="middle" fill="#0a0a0a">A</text>
<circle cx="239.44" cy="483.34" r="1.70" fill="#ffffff"/>
<text x="239.44" y="484.69" font-size="3.8" font-weight="bold" text-anchor="middle" fill="#0a0a0a">G</text>
<circle cx="239.73" cy="475.88" r="2.60" fill="#fbd3d0"/>
<text x="239.73" y="477.23" font-size="3.8" font-weight="bold" text-anchor="middle" fill="#0a0a0a">U</text>
<circle cx="239.87" cy="467.98" r="1.70" fill="#ffffff"/>
<text x="239.87" y="469.33" font-size="3.8" font-weight="bold" text-anchor="middle" fill="#0a0a0a">G</text>
<circle cx="240.16" cy="460.38" r="1.70" fill="#ffffff"/>
<text x="240.16" y="461.73" font-size="3.8" font-weight="bold" text-anchor="middle" fill="#0a0a0a">G</text>
<circle cx="240.59" cy="452.49" r="1.70" fill="#ffffff"/>
<text x="240.59" y="453.84" font-size="3.8" font-weight="bold" text-anchor="middle" fill="#0a0a0a">C</text>
<circle cx="240.87" cy="444.59" r="2.60" fill="#fbd3d0"/>
<text x="240.87" y="445.94" font-size="3.8" font-weight="bold" text-anchor="middle" fill="#0a0a0a">C</text>
<circle cx="240.87" cy="436.99" r="2.60" fill="#fbd3d0"/>
<text x="240.87" y="438.34" font-size="3.8" font-weight="bold" text-anchor="middle" fill="#0a0a0a">C</text>
<circle cx="240.87" cy="429.24" r="1.70" fill="#ffffff"/>
<text x="240.87" y="430.59" font-size="3.8" font-weight="bold" text-anchor="middle" fill="#0a0a0a">U</text>
<circle cx="240.44" cy="421.35" r="1.70" fill="#ffffff"/>
<text x="240.44" y="422.70" font-size="3.8" font-weight="bold" text-anchor="middle" fill="#0a0a0a">C</text>
<circle cx="239.44" cy="413.74" r="1.70" fill="#ffffff"/>
<text x="239.44" y="415.09" font-size="3.8" font-weight="bold" text-anchor="middle" fill="#0a0a0a">U</text>
<circle cx="232.69" cy="410.87" r="1.70" fill="#ffffff"/>
<text x="232.69" y="412.22" font-size="3.8" font-weight="bold" text-anchor="middle" fill="#0a0a0a">G</text>
<circle cx="227.96" cy="405.56" r="2.60" fill="#c0354a"/>
<text x="227.96" y="406.91" font-size="3.8" font-weight="bold" text-anchor="middle" fill="#0a0a0a">C</text>
<circle cx="227.24" cy="397.96" r="2.60" fill="#c0354a"/>
<text x="227.24" y="399.31" font-size="3.8" font-weight="bold" text-anchor="middle" fill="#0a0a0a">A</text>
<circle cx="230.11" cy="391.50" r="2.60" fill="#e9805f"/>
<text x="230.11" y="392.85" font-size="3.8" font-weight="bold" text-anchor="middle" fill="#0a0a0a">G</text>
<circle cx="235.85" cy="387.20" r="2.60" fill="#c0354a"/>
<text x="235.85" y="388.55" font-size="3.8" font-weight="bold" text-anchor="middle" fill="#0a0a0a">C</text>
<circle cx="242.74" cy="386.19" r="2.60" fill="#c0354a"/>
<text x="242.74" y="387.54" font-size="3.8" font-weight="bold" text-anchor="middle" fill="#0a0a0a">G</text>
<circle cx="250.20" cy="388.92" r="2.60" fill="#e9805f"/>
<text x="250.20" y="390.27" font-size="3.8" font-weight="bold" text-anchor="middle" fill="#0a0a0a">C</text>
<circle cx="254.50" cy="394.37" r="2.60" fill="#c0354a"/>
<text x="254.50" y="395.72" font-size="3.8" font-weight="bold" text-anchor="middle" fill="#0a0a0a">C</text>
<circle cx="255.51" cy="401.55" r="2.60" fill="#c0354a"/>
<text x="255.51" y="402.90" font-size="3.8" font-weight="bold" text-anchor="middle" fill="#0a0a0a">A</text>
<circle cx="252.78" cy="408.43" r="2.60" fill="#fbd3d0"/>
<text x="252.78" y="409.78" font-size="3.8" font-weight="bold" text-anchor="middle" fill="#0a0a0a">A</text>
<circle cx="246.90" cy="413.31" r="2.60" fill="#e9805f"/>
<text x="246.90" y="414.66" font-size="3.8" font-weight="bold" text-anchor="middle" fill="#0a0a0a">A</text>
<circle cx="247.62" cy="420.92" r="1.70" fill="#ffffff"/>
<text x="247.62" y="422.27" font-size="3.8" font-weight="bold" text-anchor="middle" fill="#0a0a0a">G</text>
<circle cx="248.05" cy="429.24" r="1.70" fill="#ffffff"/>
<text x="248.05" y="430.59" font-size="3.8" font-weight="bold" text-anchor="middle" fill="#0a0a0a">A</text>
<circle cx="248.48" cy="436.99" r="2.60" fill="#c0354a"/>
<text x="248.48" y="438.34" font-size="3.8" font-weight="bold" text-anchor="middle" fill="#0a0a0a">G</text>
<circle cx="248.48" cy="444.59" r="2.60" fill="#c0354a"/>
<text x="248.48" y="445.94" font-size="3.8" font-weight="bold" text-anchor="middle" fill="#0a0a0a">G</text>
<circle cx="248.05" cy="452.49" r="2.60" fill="#e9805f"/>
<text x="248.05" y="453.84" font-size="3.8" font-weight="bold" text-anchor="middle" fill="#0a0a0a">G</text>
<circle cx="247.76" cy="460.38" r="1.70" fill="#ffffff"/>
<text x="247.76" y="461.73" font-size="3.8" font-weight="bold" text-anchor="middle" fill="#0a0a0a">C</text>
<circle cx="247.62" cy="468.27" r="2.60" fill="#c0354a"/>
<text x="247.62" y="469.62" font-size="3.8" font-weight="bold" text-anchor="middle" fill="#0a0a0a">C</text>
<circle cx="247.62" cy="475.88" r="2.60" fill="#c0354a"/>
<text x="247.62" y="477.23" font-size="3.8" font-weight="bold" text-anchor="middle" fill="#0a0a0a">C</text>
<circle cx="247.04" cy="483.34" r="1.70" fill="#ffffff"/>
<text x="247.04" y="484.69" font-size="3.8" font-weight="bold" text-anchor="middle" fill="#0a0a0a">C</text>
<circle cx="252.07" cy="488.65" r="2.60" fill="#e9805f"/>
<text x="252.07" y="490.00" font-size="3.8" font-weight="bold" text-anchor="middle" fill="#0a0a0a">C</text>
<circle cx="252.07" cy="495.53" r="2.60" fill="#fbd3d0"/>
<text x="252.07" y="496.88" font-size="3.8" font-weight="bold" text-anchor="middle" fill="#0a0a0a">C</text>
<text x="229.39" y="501.64" font-size="5.0" font-weight="bold" text-anchor="middle">5'</text>
<text x="257.81" y="502.79" font-size="5.0" font-weight="bold" text-anchor="middle">3'</text>
<polygon points="229.53,381.16 233.63,378.86 233.63,383.86" fill="#2f74c0"/>
</g>
<g>
<line x1="475.76" y1="485.78" x2="480.35" y2="480.90" stroke="#8a8a8a" stroke-width="0.4" />
<line x1="480.35" y1="480.90" x2="485.09" y2="475.44" stroke="#8a8a8a" stroke-width="0.4" />
<line x1="485.09" y1="475.44" x2="484.80" y2="468.56" stroke="#8a8a8a" stroke-width="0.4" />
<line x1="484.80" y1="468.56" x2="489.68" y2="463.53" stroke="#8a8a8a" stroke-width="0.4" />
<line x1="489.68" y1="463.53" x2="490.11" y2="456.36" stroke="#8a8a8a" stroke-width="0.4" />
<line x1="490.11" y1="456.36" x2="490.11" y2="448.90" stroke="#8a8a8a" stroke-width="0.4" />
<line x1="490.11" y1="448.90" x2="490.11" y2="441.44" stroke="#8a8a8a" stroke-width="0.4" />
<line x1="490.11" y1="441.44" x2="489.68" y2="434.26" stroke="#8a8a8a" stroke-width="0.4" />
<line x1="489.68" y1="434.26" x2="489.68" y2="427.37" stroke="#8a8a8a" stroke-width="0.4" />
<line x1="489.68" y1="427.37" x2="482.94" y2="424.50" stroke="#8a8a8a" stroke-width="0.4" />
<line x1="482.94" y1="424.50" x2="478.20" y2="419.91" stroke="#8a8a8a" stroke-width="0.4" />
<line x1="478.20" y1="419.91" x2="475.33" y2="413.74" stroke="#8a8a8a" stroke-width="0.4" />
<line x1="475.33" y1="413.74" x2="475.47" y2="407.29" stroke="#8a8a8a" stroke-width="0.4" />
<line x1="475.47" y1="407.29" x2="478.63" y2="401.12" stroke="#8a8a8a" stroke-width="0.4" />
<line x1="478.63" y1="401.12" x2="484.08" y2="396.81" stroke="#8a8a8a" stroke-width="0.4" />
<line x1="484.08" y1="396.81" x2="490.11" y2="394.80" stroke="#8a8a8a" stroke-width="0.4" />
<line x1="490.11" y1="394.80" x2="496.86" y2="396.09" stroke="#8a8a8a" stroke-width="0.4" />
<line x1="496.86" y1="396.09" x2="502.74" y2="399.39" stroke="#8a8a8a" stroke-width="0.4" />
<line x1="502.74" y1="399.39" x2="506.61" y2="404.85" stroke="#8a8a8a" stroke-width="0.4" />
<line x1="506.61" y1="404.85" x2="507.76" y2="411.30" stroke="#8a8a8a" stroke-width="0.4" />
<line x1="507.76" y1="411.30" x2="506.18" y2="417.76" stroke="#8a8a8a" stroke-width="0.4" />
<line x1="506.18" y1="417.76" x2="502.02" y2="423.36" stroke="#8a8a8a" stroke-width="0.4" />
<line x1="502.02" y1="423.36" x2="496.28" y2="426.94" stroke="#8a8a8a" stroke-width="0.4" />
<line x1="496.28" y1="426.94" x2="496.57" y2="434.12" stroke="#8a8a8a" stroke-width="0.4" />
<line x1="496.57" y1="434.12" x2="496.57" y2="441.44" stroke="#8a8a8a" stroke-width="0.4" />
<line x1="496.57" y1="441.44" x2="496.57" y2="448.90" stroke="#8a8a8a" stroke-width="0.4" />
<line x1="496.57" y1="448.90" x2="496.57" y2="456.36" stroke="#8a8a8a" stroke-width="0.4" />
<line x1="496.57" y1="456.36" x2="496.57" y2="463.53" stroke="#8a8a8a" stroke-width="0.4" />
<line x1="496.57" y1="463.53" x2="501.30" y2="468.27" stroke="#8a8a8a" stroke-width="0.4" />
<line x1="501.30" y1="468.27" x2="501.59" y2="475.01" stroke="#8a8a8a" stroke-width="0.4" />
<line x1="501.59" y1="475.01" x2="496.86" y2="480.04" stroke="#8a8a8a" stroke-width="0.4" />
<line x1="496.86" y1="480.04" x2="490.40" y2="480.04" stroke="#8a8a8a" stroke-width="0.4" />
<line x1="490.40" y1="480.04" x2="485.38" y2="485.49" stroke="#8a8a8a" stroke-width="0.4" />
<line x1="485.38" y1="485.49" x2="481.07" y2="490.22" stroke="#8a8a8a" stroke-width="0.4" />
<line x1="489.68" y1="427.37" x2="496.28" y2="426.94" stroke="#b5b5b5" stroke-width="0.3" />
<circle cx="492.98" cy="427.16" r="0.45" fill="#e0303a"/>
<line x1="489.68" y1="434.26" x2="496.57" y2="434.12" stroke="#b5b5b5" stroke-width="0.3" />
<circle cx="493.12" cy="434.19" r="0.45" fill="#e0303a"/>
<line x1="490.11" y1="441.44" x2="496.57" y2="441.44" stroke="#b5b5b5" stroke-width="0.3" />
<circle cx="493.34" cy="441.44" r="0.45" fill="#e0303a"/>
<line x1="490.11" y1="448.90" x2="496.57" y2="448.90" stroke="#b5b5b5" stroke-width="0.3" />
<circle cx="493.34" cy="448.90" r="0.45" fill="#e0303a"/>
<line x1="490.11" y1="456.36" x2="496.57" y2="456.36" stroke="#b5b5b5" stroke-width="0.3" />
<circle cx="493.34" cy="456.36" r="0.45" fill="#e0303a"/>
<line x1="489.68" y1="463.53" x2="496.57" y2="463.53" stroke="#b5b5b5" stroke-width="0.3" />
<circle cx="493.12" cy="463.53" r="0.45" fill="#e0303a"/>
<line x1="485.09" y1="475.44" x2="490.40" y2="480.04" stroke="#b5b5b5" stroke-width="0.3" />
<circle cx="487.74" cy="477.74" r="0.45" fill="#e0303a"/>
<line x1="480.35" y1="480.90" x2="485.38" y2="485.49" stroke="#b5b5b5" stroke-width="0.3" />
<circle cx="482.86" cy="483.19" r="0.45" fill="#e0303a"/>
<line x1="475.76" y1="485.78" x2="481.07" y2="490.22" stroke="#b5b5b5" stroke-width="0.3" />
<circle cx="478.42" cy="488.00" r="0.45" fill="#e0303a"/>
<circle cx="475.76" cy="485.78" r="1.70" fill="#ffffff"/>
<text x="475.76" y="487.13" font-size="3.8" font-weight="bold" text-anchor="middle" fill="#0a0a0a">C</text>
<circle cx="480.35" cy="480.90" r="1.70" fill="#ffffff"/>
<text x="480.35" y="482.25" font-size="3.8" font-weight="bold" text-anchor="middle" fill="#0a0a0a">C</text>
<circle cx="485.09" cy="475.44" r="2.60" fill="#e9805f"/>
<text x="485.09" y="476.79" font-size="3.8" font-weight="bold" text-anchor="middle" fill="#0a0a0a">C</text>
<circle cx="484.80" cy="468.56" r="2.60" fill="#e9805f"/>
<text x="484.80" y="469.91" font-size="3.8" font-weight="bold" text-anchor="middle" fill="#0a0a0a">C</text>
<circle cx="489.68" cy="463.53" r="2.60" fill="#e9805f"/>
<text x="489.68" y="464.88" font-size="3.8" font-weight="bold" text-anchor="middle" fill="#0a0a0a">A</text>
<circle cx="490.11" cy="456.36" r="2.60" fill="#fbd3d0"/>
<text x="490.11" y="457.71" font-size="3.8" font-weight="bold" text-anchor="middle" fill="#0a0a0a">G</text>
<circle cx="490.11" cy="448.90" r="1.70" fill="#ffffff"/>
<text x="490.11" y="450.25" font-size="3.8" font-weight="bold" text-anchor="middle" fill="#0a0a0a">G</text>
<circle cx="490.11" cy="441.44" r="1.70" fill="#ffffff"/>
<text x="490.11" y="442.79" font-size="3.8" font-weight="bold" text-anchor="middle" fill="#0a0a0a">C</text>
<circle cx="489.68" cy="434.26" r="2.60" fill="#e9805f"/>
<text x="489.68" y="435.61" font-size="3.8" font-weight="bold" text-anchor="middle" fill="#0a0a0a">G</text>
<circle cx="489.68" cy="427.37" r="2.60" fill="#e9805f"/>
<text x="489.68" y="428.72" font-size="3.8" font-weight="bold" text-anchor="middle" fill="#0a0a0a">C</text>
<circle cx="482.94" cy="424.50" r="1.70" fill="#ffffff"/>
<text x="482.94" y="425.85" font-size="3.8" font-weight="bold" text-anchor="middle" fill="#0a0a0a">C</text>
<circle cx="478.20" cy="419.91" r="1.70" fill="#ffffff"/>
<text x="478.20" y="421.26" font-size="3.8" font-weight="bold" text-anchor="middle" fill="#0a0a0a">C</text>
<circle cx="475.33" cy="413.74" r="2.60" fill="#fbd3d0"/>
<text x="475.33" y="415.09" font-size="3.8" font-weight="bold" text-anchor="middle" fill="#0a0a0a">A</text>
<circle cx="475.47" cy="407.29" r="2.60" fill="#e9805f"/>
<text x="475.47" y="408.64" font-size="3.8" font-weight="bold" text-anchor="middle" fill="#0a0a0a">G</text>
<circle cx="478.63" cy="401.12" r="2.60" fill="#c0354a"/>
<text x="478.63" y="402.47" font-size="3.8" font-weight="bold" text-anchor="middle" fill="#0a0a0a">G</text>
<circle cx="484.08" cy="396.81" r="2.60" fill="#c0354a"/>
<text x="484.08" y="398.16" font-size="3.8" font-weight="bold" text-anchor="middle" fill="#0a0a0a">C</text>
<circle cx="490.11" cy="394.80" r="2.60" fill="#c0354a"/>
<text x="490.11" y="396.15" font-size="3.8" font-weight="bold" text-anchor="middle" fill="#0a0a0a">C</text>
<circle cx="496.86" cy="396.09" r="1.70" fill="#ffffff"/>
<text x="496.86" y="397.44" font-size="3.8" font-weight="bold" text-anchor="middle" fill="#0a0a0a">U</text>
<circle cx="502.74" cy="399.39" r="2.60" fill="#c0354a"/>
<text x="502.74" y="400.74" font-size="3.8" font-weight="bold" text-anchor="middle" fill="#0a0a0a">C</text>
<circle cx="506.61" cy="404.85" r="2.60" fill="#c0354a"/>
<text x="506.61" y="406.20" font-size="3.8" font-weight="bold" text-anchor="middle" fill="#0a0a0a">C</text>
<circle cx="507.76" cy="411.30" r="2.60" fill="#c0354a"/>
<text x="507.76" y="412.65" font-size="3.8" font-weight="bold" text-anchor="middle" fill="#0a0a0a">A</text>
<circle cx="506.18" cy="417.76" r="2.60" fill="#c0354a"/>
<text x="506.18" y="419.11" font-size="3.8" font-weight="bold" text-anchor="middle" fill="#0a0a0a">C</text>
<circle cx="502.02" cy="423.36" r="2.60" fill="#e9805f"/>
<text x="502.02" y="424.71" font-size="3.8" font-weight="bold" text-anchor="middle" fill="#0a0a0a">A</text>
<circle cx="496.28" cy="426.94" r="2.60" fill="#e9805f"/>
<text x="496.28" y="428.29" font-size="3.8" font-weight="bold" text-anchor="middle" fill="#0a0a0a">G</text>
<circle cx="496.57" cy="434.12" r="2.60" fill="#e9805f"/>
<text x="496.57" y="435.47" font-size="3.8" font-weight="bold" text-anchor="middle" fill="#0a0a0a">A</text>
<circle cx="496.57" cy="441.44" r="2.60" fill="#c0354a"/>
<text x="496.57" y="442.79" font-size="3.8" font-weight="bold" text-anchor="middle" fill="#0a0a0a">G</text>
<circle cx="496.57" cy="448.90" r="1.70" fill="#ffffff"/>
<text x="496.57" y="450.25" font-size="3.8" font-weight="bold" text-anchor="middle" fill="#0a0a0a">U</text>
<circle cx="496.57" cy="456.36" r="2.60" fill="#e9805f"/>
<text x="496.57" y="457.71" font-size="3.8" font-weight="bold" text-anchor="middle" fill="#0a0a0a">C</text>
<circle cx="496.57" cy="463.53" r="2.60" fill="#e9805f"/>
<text x="496.57" y="464.88" font-size="3.8" font-weight="bold" text-anchor="middle" fill="#0a0a0a">U</text>
<circle cx="501.30" cy="468.27" r="2.60" fill="#e9805f"/>
<text x="501.30" y="469.62" font-size="3.8" font-weight="bold" text-anchor="middle" fill="#0a0a0a">U</text>
<circle cx="501.59" cy="475.01" r="2.60" fill="#fbd3d0"/>
<text x="501.59" y="476.36" font-size="3.8" font-weight="bold" text-anchor="middle" fill="#0a0a0a">C</text>
<circle cx="496.86" cy="480.04" r="2.60" fill="#fbd3d0"/>
<text x="496.86" y="481.39" font-size="3.8" font-weight="bold" text-anchor="middle" fill="#0a0a0a">A</text>
<circle cx="490.40" cy="480.04" r="2.60" fill="#fbd3d0"/>
<text x="490.40" y="481.39" font-size="3.8" font-weight="bold" text-anchor="middle" fill="#0a0a0a">G</text>
<circle cx="485.38" cy="485.49" r="1.70" fill="#ffffff"/>
<text x="485.38" y="486.84" font-size="3.8" font-weight="bold" text-anchor="middle" fill="#0a0a0a">C</text>
<circle cx="481.07" cy="490.22" r="2.60" fill="#fbd3d0"/>
<text x="481.07" y="491.57" font-size="3.8" font-weight="bold" text-anchor="middle" fill="#0a0a0a">G</text>
<text x="470.74" y="486.57" font-size="5.0" font-weight="bold" text-anchor="middle">5'</text>
<text x="486.52" y="495.90" font-size="5.0" font-weight="bold" text-anchor="middle">3'</text>
<polygon points="487.51,386.86 492.71,386.86 490.11,391.46" fill="#2f74c0"/>
</g>
<rect x="522.15" y="252.05" width="2.90" height="3.80" fill="#c5384b" stroke="#1d0d0d" stroke-width="1.0"/>
<rect x="522.15" y="264.50" width="2.90" height="3.80" fill="#e97a62" stroke="#1d0d0d" stroke-width="1.0"/>
<rect x="522.15" y="276.90" width="2.90" height="3.80" fill="#fcdcd9" stroke="#1d0d0d" stroke-width="1.0"/>
<rect x="522.15" y="289.60" width="2.90" height="3.80" fill="#ffffff" stroke="#1d0d0d" stroke-width="1.0"/>
<text x="533.70" y="256.50" font-size="7.5" textLength="47.90" lengthAdjust="spacingAndGlyphs">High reactivity</text>
<text x="595.10" y="256.50" font-size="7.5" textLength="20.00" lengthAdjust="spacingAndGlyphs">(&gt;0.7)</text>
<text x="533.70" y="269.00" font-size="7.5" textLength="58.20" lengthAdjust="spacingAndGlyphs">Medium reactivity</text>
<text x="595.10" y="269.00" font-size="7.5" textLength="33.00" lengthAdjust="spacingAndGlyphs">(0.4-0.69)</text>
<text x="533.70" y="281.40" font-size="7.5" textLength="46.30" lengthAdjust="spacingAndGlyphs">Low reactivity</text>
<text x="595.10" y="281.40" font-size="7.5" textLength="33.00" lengthAdjust="spacingAndGlyphs">(0.2-0.39)</text>
<text x="533.70" y="293.90" font-size="7.5" textLength="35.30" lengthAdjust="spacingAndGlyphs">unreactive</text>
<text x="595.80" y="293.90" font-size="7.5" textLength="21.50" lengthAdjust="spacingAndGlyphs">(&lt;0.2)</text>
<g id="panel-f">
<text x="59.30" y="535.00" font-size="12.3" font-weight="bold">f</text>
<rect x="91.30" y="529.20" width="46.60" height="66.00" fill="#f5dde0"/>
<rect x="91.30" y="595.20" width="46.60" height="65.60" fill="#fdf0ef"/>
<rect x="91.30" y="660.80" width="46.60" height="58.30" fill="#fef8f7"/>
<line x1="87.60" y1="594.60" x2="139.80" y2="594.60" stroke="#777" stroke-width="0.7" stroke-dasharray="1 1.2"/>
<polygon points="139.20,593.20 142.60,594.60 139.20,596.00 140.10,594.60" fill="#777"/>
<text x="145.90" y="596.70" font-size="6.7" fill="#222" textLength="13.00" lengthAdjust="spacingAndGlyphs">25nt</text>
<line x1="87.60" y1="660.30" x2="139.80" y2="660.30" stroke="#777" stroke-width="0.7" stroke-dasharray="1 1.2"/>
<polygon points="139.20,658.90 142.60,660.30 139.20,661.70 140.10,660.30" fill="#777"/>
<text x="145.90" y="662.40" font-size="6.7" fill="#222" textLength="13.00" lengthAdjust="spacingAndGlyphs">50nt</text>
<g stroke-linecap="round">
<line x1="79.40" y1="595.50" x2="85.90" y2="591.70" stroke="#c4c4be" stroke-width="0.95" />
<line x1="79.30" y1="593.50" x2="86.10" y2="597.70" stroke="#7d7070" stroke-width="0.95" />
<circle cx="78.50" cy="592.60" r="1.05" fill="#ffffff" stroke="#4a6fc0" stroke-width="0.95"/>
<circle cx="78.50" cy="596.65" r="1.05" fill="#ffffff" stroke="#4a6fc0" stroke-width="0.95"/>
</g>
<g stroke-linecap="round">
<line x1="79.40" y1="661.30" x2="85.90" y2="657.50" stroke="#c4c4be" stroke-width="0.95" />
<line x1="79.30" y1="659.30" x2="86.10" y2="663.50" stroke="#7d7070" stroke-width="0.95" />
<circle cx="78.50" cy="658.40" r="1.05" fill="#ffffff" stroke="#4a6fc0" stroke-width="0.95"/>
<circle cx="78.50" cy="662.45" r="1.05" fill="#ffffff" stroke="#4a6fc0" stroke-width="0.95"/>
</g>
<path d="M107.50,594.90 A9.9,9.9 0 0 0 109.70,610.56 L109.70,621.74 A9.9,9.9 0 0 0 109.70,639.06 L109.70,653.84 A9.9,9.9 0 0 0 109.70,671.16 L109.70,683.74 A9.9,9.9 0 0 0 109.70,701.06 L109.70,716.80" stroke="#1a1a1a" stroke-width="1.3" fill="none" stroke-linejoin="round"/>
<path d="M121.50,594.90 A9.9,9.9 0 0 1 119.30,610.56 L119.30,621.74 A9.9,9.9 0 0 1 119.30,639.06 L119.30,653.84 A9.9,9.9 0 0 1 119.30,671.16 L119.30,683.74 A9.9,9.9 0 0 1 119.30,701.06 L119.30,716.80" stroke="#1a1a1a" stroke-width="1.3" fill="none" stroke-linejoin="round"/>
<text transform="translate(103.90 540.56) scale(0.93 1)" font-size="4.6" font-weight="bold" text-anchor="middle" fill="#111">U</text>
<text transform="translate(109.00 537.46) scale(0.93 1)" font-size="4.6" font-weight="bold" text-anchor="middle" fill="#e0252b">C</text>
<text transform="translate(114.80 536.26) scale(0.93 1)" font-size="4.6" font-weight="bold" text-anchor="middle" fill="#4f83c4">U</text>
<text transform="translate(120.40 537.46) scale(0.93 1)" font-size="4.6" font-weight="bold" text-anchor="middle" fill="#4f83c4">C</text>
<text transform="translate(124.60 540.56) scale(0.93 1)" font-size="4.6" font-weight="bold" text-anchor="middle" fill="#4f83c4">C</text>
<text transform="translate(127.20 545.96) scale(0.93 1)" font-size="4.6" font-weight="bold" text-anchor="middle" fill="#4f83c4">A</text>
<text transform="translate(127.20 552.06) scale(0.93 1)" font-size="4.6" font-weight="bold" text-anchor="middle" fill="#111">A</text>
<text transform="translate(124.60 557.56) scale(0.93 1)" font-size="4.6" font-weight="bold" text-anchor="middle" fill="#111">G</text>
<text transform="translate(101.70 545.96) scale(0.93 1)" font-size="4.6" font-weight="bold" text-anchor="middle" fill="#111">C</text>
<text transform="translate(101.70 552.06) scale(0.93 1)" font-size="4.6" font-weight="bold" text-anchor="middle" fill="#111">C</text>
<text transform="translate(104.40 557.56) scale(0.93 1)" font-size="4.6" font-weight="bold" text-anchor="middle" fill="#111">A</text>
<text transform="translate(109.50 561.76) scale(0.93 1)" font-size="4.6" font-weight="bold" text-anchor="middle" fill="#111">C</text>
<text transform="translate(118.80 561.76) scale(0.93 1)" font-size="4.6" font-weight="bold" text-anchor="middle" fill="#111">G</text>
<line x1="112.70" y1="560.10" x2="115.70" y2="560.10" stroke="#111" stroke-width="0.9" />
<text transform="translate(109.50 567.06) scale(0.93 1)" font-size="4.6" font-weight="bold" text-anchor="middle" fill="#111">C</text>
<text transform="translate(118.80 567.06) scale(0.93 1)" font-size="4.6" font-weight="bold" text-anchor="middle" fill="#111">G</text>
<line x1="112.70" y1="565.40" x2="115.70" y2="565.40" stroke="#111" stroke-width="0.9" />
<text transform="translate(109.50 572.66) scale(0.93 1)" font-size="4.6" font-weight="bold" text-anchor="middle" fill="#111">G</text>
<text transform="translate(118.80 572.66) scale(0.93 1)" font-size="4.6" font-weight="bold" text-anchor="middle" fill="#111">C</text>
<line x1="112.70" y1="571.00" x2="115.70" y2="571.00" stroke="#111" stroke-width="0.9" />
<text transform="translate(109.50 578.26) scale(0.93 1)" font-size="4.6" font-weight="bold" text-anchor="middle" fill="#111">G</text>
<text transform="translate(118.80 578.26) scale(0.93 1)" font-size="4.6" font-weight="bold" text-anchor="middle" fill="#111">U</text>
<line x1="112.70" y1="576.60" x2="115.70" y2="576.60" stroke="#111" stroke-width="0.9" />
<text transform="translate(109.50 583.56) scale(0.93 1)" font-size="4.6" font-weight="bold" text-anchor="middle" fill="#111">A</text>
<text transform="translate(118.80 583.56) scale(0.93 1)" font-size="4.6" font-weight="bold" text-anchor="middle" fill="#111">U</text>
<line x1="112.70" y1="581.90" x2="115.70" y2="581.90" stroke="#111" stroke-width="0.9" />
<text transform="translate(109.50 588.96) scale(0.93 1)" font-size="4.6" font-weight="bold" text-anchor="middle" fill="#111">G</text>
<text transform="translate(118.80 588.96) scale(0.93 1)" font-size="4.6" font-weight="bold" text-anchor="middle" fill="#111">C</text>
<line x1="112.70" y1="587.30" x2="115.70" y2="587.30" stroke="#111" stroke-width="0.9" />
<text transform="translate(109.50 594.56) scale(0.93 1)" font-size="4.6" font-weight="bold" text-anchor="middle" fill="#111">G</text>
<text transform="translate(118.80 594.56) scale(0.93 1)" font-size="4.6" font-weight="bold" text-anchor="middle" fill="#111">U</text>
<line x1="112.70" y1="592.90" x2="115.70" y2="592.90" stroke="#111" stroke-width="0.9" />
<text x="102.20" y="717.90" font-size="5.7" font-weight="bold">5'</text>
<text x="122.60" y="717.90" font-size="5.7" font-weight="bold">3'</text>
<text x="91.80" y="733.20" font-size="7.9" font-weight="bold" textLength="50.00" lengthAdjust="spacingAndGlyphs"><tspan font-style="italic">FURIN</tspan>-100nt</text>
</g>
<g id="panel-g">
<text x="174.30" y="535.00" font-size="12.3" font-weight="bold">g</text>
<rect x="192.30" y="546.00" width="64.30" height="68.00" fill="#f5dde0"/>
<rect x="192.30" y="614.00" width="64.30" height="47.00" fill="#fdf0ef"/>
<rect x="192.30" y="661.00" width="64.30" height="42.80" fill="#fef8f7"/>
<line x1="186.40" y1="613.30" x2="259.40" y2="613.30" stroke="#777" stroke-width="0.7" stroke-dasharray="1 1.2"/>
<polygon points="258.80,611.90 262.20,613.30 258.80,614.70 259.70,613.30" fill="#777"/>
<text x="265.80" y="615.40" font-size="6.7" fill="#222" textLength="13.00" lengthAdjust="spacingAndGlyphs">25nt</text>
<line x1="186.40" y1="660.30" x2="259.40" y2="660.30" stroke="#777" stroke-width="0.7" stroke-dasharray="1 1.2"/>
<polygon points="258.80,658.90 262.20,660.30 258.80,661.70 259.70,660.30" fill="#777"/>
<text x="265.80" y="662.40" font-size="6.7" fill="#222" textLength="13.00" lengthAdjust="spacingAndGlyphs">50nt</text>
<g stroke-linecap="round">
<line x1="178.40" y1="614.30" x2="184.90" y2="610.50" stroke="#c4c4be" stroke-width="0.95" />
<line x1="178.30" y1="612.30" x2="185.10" y2="616.50" stroke="#7d7070" stroke-width="0.95" />
<circle cx="177.50" cy="611.40" r="1.05" fill="#ffffff" stroke="#4a6fc0" stroke-width="0.95"/>
<circle cx="177.50" cy="615.45" r="1.05" fill="#ffffff" stroke="#4a6fc0" stroke-width="0.95"/>
</g>
<g stroke-linecap="round">
<line x1="178.40" y1="661.30" x2="184.90" y2="657.50" stroke="#c4c4be" stroke-width="0.95" />
<line x1="178.30" y1="659.30" x2="185.10" y2="663.50" stroke="#7d7070" stroke-width="0.95" />
<circle cx="177.50" cy="658.40" r="1.05" fill="#ffffff" stroke="#4a6fc0" stroke-width="0.95"/>
<circle cx="177.50" cy="662.45" r="1.05" fill="#ffffff" stroke="#4a6fc0" stroke-width="0.95"/>
</g>
<path d="M212.3,611.5 C213.6,614.6 216.8,616.8 218.0,618.0 Q218.6,618.6 218.6,619.6 L218.6,631.6 A10.7,10.7 0 0 0 218.6,649.2 L218.6,677.7 L209.3,677.7 A8.2,8.2 0 1 0 209.3,689.2 L218.6,689.2 L218.6,700.8" stroke="#1a1a1a" stroke-width="1.3" fill="none" stroke-linejoin="round"/>
<path d="M237.4,609.1 C236.6,613.6 233.2,616.8 231.2,618.0 Q230.5,618.6 230.5,619.6 L230.5,631.6 A10.7,10.7 0 0 1 230.5,649.2 L230.5,677.7 L239.8,677.7 A8.2,8.2 0 1 1 239.8,689.2 L230.5,689.2 L230.5,700.8" stroke="#1a1a1a" stroke-width="1.3" fill="none" stroke-linejoin="round"/>
<text transform="translate(222.60 552.76) scale(0.93 1)" font-size="4.6" font-weight="bold" text-anchor="middle" fill="#111">C</text>
<text transform="translate(228.60 552.76) scale(0.93 1)" font-size="4.6" font-weight="bold" text-anchor="middle" fill="#e0252b">C</text>
<text transform="translate(234.20 556.86) scale(0.93 1)" font-size="4.6" font-weight="bold" text-anchor="middle" fill="#4f83c4">U</text>
<text transform="translate(236.20 562.96) scale(0.93 1)" font-size="4.6" font-weight="bold" text-anchor="middle" fill="#4f83c4">C</text>
<text transform="translate(236.20 567.76) scale(0.93 1)" font-size="4.6" font-weight="bold" text-anchor="middle" fill="#4f83c4">C</text>
<text transform="translate(233.20 573.16) scale(0.93 1)" font-size="4.6" font-weight="bold" text-anchor="middle" fill="#4f83c4">A</text>
<text transform="translate(216.50 555.16) scale(0.93 1)" font-size="4.6" font-weight="bold" text-anchor="middle" fill="#111">C</text>
<text transform="translate(212.40 560.56) scale(0.93 1)" font-size="4.6" font-weight="bold" text-anchor="middle" fill="#111">G</text>
<text transform="translate(211.10 567.36) scale(0.93 1)" font-size="4.6" font-weight="bold" text-anchor="middle" fill="#111">U</text>
<text transform="translate(214.30 573.16) scale(0.93 1)" font-size="4.6" font-weight="bold" text-anchor="middle" fill="#111">C</text>
<text transform="translate(215.30 597.66) scale(0.93 1)" font-size="4.6" font-weight="bold" text-anchor="middle" fill="#111">A</text>
<text transform="translate(211.10 601.76) scale(0.93 1)" font-size="4.6" font-weight="bold" text-anchor="middle" fill="#111">C</text>
<text transform="translate(210.40 607.16) scale(0.93 1)" font-size="4.6" font-weight="bold" text-anchor="middle" fill="#111">A</text>
<text transform="translate(212.40 611.96) scale(0.93 1)" font-size="4.6" font-weight="bold" text-anchor="middle" fill="#111">U</text>
<text transform="translate(233.70 597.66) scale(0.93 1)" font-size="4.6" font-weight="bold" text-anchor="middle" fill="#111">C</text>
<text transform="translate(236.60 601.76) scale(0.93 1)" font-size="4.6" font-weight="bold" text-anchor="middle" fill="#111">A</text>
<text transform="translate(237.10 607.16) scale(0.93 1)" font-size="4.6" font-weight="bold" text-anchor="middle" fill="#111">A</text>
<text transform="translate(219.40 577.06) scale(0.93 1)" font-size="4.6" font-weight="bold" text-anchor="middle" fill="#111">U</text>
<text transform="translate(229.40 577.06) scale(0.93 1)" font-size="4.6" font-weight="bold" text-anchor="middle" fill="#111">A</text>
<line x1="222.70" y1="575.40" x2="226.10" y2="575.40" stroke="#111" stroke-width="0.9" />
<text transform="translate(219.40 582.36) scale(0.93 1)" font-size="4.6" font-weight="bold" text-anchor="middle" fill="#111">C</text>
<text transform="translate(229.40 582.36) scale(0.93 1)" font-size="4.6" font-weight="bold" text-anchor="middle" fill="#111">G</text>
<line x1="222.70" y1="580.70" x2="226.10" y2="580.70" stroke="#111" stroke-width="0.9" />
<text transform="translate(219.40 587.76) scale(0.93 1)" font-size="4.6" font-weight="bold" text-anchor="middle" fill="#111">U</text>
<text transform="translate(229.40 587.76) scale(0.93 1)" font-size="4.6" font-weight="bold" text-anchor="middle" fill="#111">A</text>
<line x1="222.70" y1="586.10" x2="226.10" y2="586.10" stroke="#111" stroke-width="0.9" />
<text transform="translate(219.40 593.26) scale(0.93 1)" font-size="4.6" font-weight="bold" text-anchor="middle" fill="#111">G</text>
<text transform="translate(229.40 593.26) scale(0.93 1)" font-size="4.6" font-weight="bold" text-anchor="middle" fill="#111">C</text>
<line x1="222.70" y1="591.60" x2="226.10" y2="591.60" stroke="#111" stroke-width="0.9" />
<text x="211.60" y="703.40" font-size="5.7" font-weight="bold">5'</text>
<text x="233.00" y="703.40" font-size="5.7" font-weight="bold">3'</text>
<text x="201.40" y="733.20" font-size="7.9" font-weight="bold" textLength="53.50" lengthAdjust="spacingAndGlyphs"><tspan font-style="italic">MAPK3</tspan>-100nt</text>
</g>
<g id="panel-h">
<text x="296.70" y="553.50" font-size="12.3" font-weight="bold">h</text>
<rect x="351.85" y="606.10" width="16.70" height="80.40" fill="#f8d8da"/>
<rect x="376.65" y="605.12" width="16.70" height="81.38" fill="#f4b3b3"/>
<rect x="401.25" y="594.13" width="16.70" height="92.37" fill="#ea8c90"/>
<rect x="426.05" y="680.86" width="16.70" height="5.64" fill="#a0a0a2"/>
<line x1="360.30" y1="611.66" x2="360.30" y2="599.48" stroke="#111" stroke-width="0.7" />
<line x1="356.20" y1="611.66" x2="364.40" y2="611.66" stroke="#111" stroke-width="0.7" />
<line x1="356.20" y1="599.48" x2="364.40" y2="599.48" stroke="#111" stroke-width="0.7" />
<line x1="385.00" y1="610.47" x2="385.00" y2="598.88" stroke="#111" stroke-width="0.7" />
<line x1="380.90" y1="610.47" x2="389.10" y2="610.47" stroke="#111" stroke-width="0.7" />
<line x1="380.90" y1="598.88" x2="389.10" y2="598.88" stroke="#111" stroke-width="0.7" />
<line x1="409.60" y1="605.86" x2="409.60" y2="583.74" stroke="#111" stroke-width="0.7" />
<line x1="405.50" y1="605.86" x2="413.70" y2="605.86" stroke="#111" stroke-width="0.7" />
<line x1="405.50" y1="583.74" x2="413.70" y2="583.74" stroke="#111" stroke-width="0.7" />
<line x1="434.40" y1="683.53" x2="434.40" y2="677.89" stroke="#111" stroke-width="0.7" />
<line x1="430.30" y1="683.53" x2="438.50" y2="683.53" stroke="#111" stroke-width="0.7" />
<line x1="430.30" y1="677.89" x2="438.50" y2="677.89" stroke="#111" stroke-width="0.7" />
<circle cx="360.30" cy="599.48" r="1.25" fill="#111"/>
<circle cx="360.30" cy="607.80" r="1.25" fill="#111"/>
<circle cx="360.80" cy="609.58" r="1.25" fill="#111"/>
<circle cx="385.00" cy="598.59" r="1.25" fill="#111"/>
<circle cx="382.50" cy="608.69" r="1.25" fill="#111"/>
<circle cx="387.10" cy="607.80" r="1.25" fill="#111"/>
<circle cx="409.60" cy="586.41" r="1.25" fill="#111"/>
<circle cx="409.60" cy="592.65" r="1.25" fill="#111"/>
<circle cx="409.60" cy="606.61" r="1.25" fill="#111"/>
<circle cx="434.40" cy="679.08" r="1.25" fill="#111"/>
<circle cx="431.80" cy="682.34" r="1.25" fill="#111"/>
<circle cx="437.00" cy="681.15" r="1.25" fill="#111"/>
<path d="M343.60,567.30 L343.60,686.50 L451.20,686.50" stroke="#111" stroke-width="1.3" fill="none" />
<line x1="340.00" y1="686.50" x2="343.60" y2="686.50" stroke="#111" stroke-width="1.15" />
<text x="339.00" y="689.05" font-size="7.2" font-weight="bold" text-anchor="end">0</text>
<line x1="340.00" y1="656.80" x2="343.60" y2="656.80" stroke="#111" stroke-width="1.15" />
<text x="339.00" y="659.35" font-size="7.2" font-weight="bold" text-anchor="end">10</text>
<line x1="340.00" y1="627.10" x2="343.60" y2="627.10" stroke="#111" stroke-width="1.15" />
<text x="339.00" y="629.65" font-size="7.2" font-weight="bold" text-anchor="end">20</text>
<line x1="340.00" y1="597.40" x2="343.60" y2="597.40" stroke="#111" stroke-width="1.15" />
<text x="339.00" y="599.95" font-size="7.2" font-weight="bold" text-anchor="end">30</text>
<line x1="340.00" y1="567.70" x2="343.60" y2="567.70" stroke="#111" stroke-width="1.15" />
<text x="339.00" y="570.25" font-size="7.2" font-weight="bold" text-anchor="end">40</text>
<line x1="360.20" y1="686.50" x2="360.20" y2="689.90" stroke="#111" stroke-width="1.15" />
<line x1="385.00" y1="686.50" x2="385.00" y2="689.90" stroke="#111" stroke-width="1.15" />
<line x1="409.60" y1="686.50" x2="409.60" y2="689.90" stroke="#111" stroke-width="1.15" />
<line x1="434.40" y1="686.50" x2="434.40" y2="689.90" stroke="#111" stroke-width="1.15" />
<line x1="360.30" y1="572.40" x2="409.60" y2="572.40" stroke="#777" stroke-width="1.0" />
<text x="385.00" y="566.80" font-size="6.6" text-anchor="middle" fill="#333">ns</text>
<line x1="360.30" y1="586.80" x2="385.00" y2="586.80" stroke="#777" stroke-width="1.0" />
<text x="372.30" y="581.60" font-size="6.6" text-anchor="middle" fill="#333">ns</text>
<text x="362.10" y="696.60" font-size="7.35" font-weight="bold" text-anchor="end" transform="rotate(-45 362.10 696.60)"><tspan font-style="italic">FURIN</tspan>-100nt</text>
<text x="386.90" y="696.60" font-size="7.35" font-weight="bold" text-anchor="end" transform="rotate(-45 386.90 696.60)"><tspan font-style="italic">FURIN</tspan>-50nt</text>
<text x="411.50" y="696.60" font-size="7.35" font-weight="bold" text-anchor="end" transform="rotate(-45 411.50 696.60)"><tspan font-style="italic">FURIN</tspan>-25nt</text>
<text x="436.30" y="696.60" font-size="7.35" font-weight="bold" text-anchor="end" transform="rotate(-45 436.30 696.60)">no RNA</text>
<text x="316.40" y="627.70" font-size="7.4" font-weight="bold" text-anchor="middle" textLength="90.00" lengthAdjust="spacingAndGlyphs" transform="rotate(-90 316.40 627.70)">Amount of methyl moiety</text>
<text x="324.90" y="627.70" font-size="7.4" font-weight="bold" text-anchor="middle" textLength="106.00" lengthAdjust="spacingAndGlyphs" transform="rotate(-90 324.90 627.70)">incorporated into RNA (pmol)</text>
</g>
<g id="panel-i">
<text x="464.80" y="553.50" font-size="12.3" font-weight="bold">i</text>
<rect x="517.15" y="634.70" width="16.70" height="51.80" fill="#f8d8da"/>
<rect x="541.85" y="632.33" width="16.70" height="54.17" fill="#f4b3b3"/>
<rect x="566.35" y="640.92" width="16.70" height="45.58" fill="#ea8c90"/>
<rect x="590.95" y="680.88" width="16.70" height="5.62" fill="#a0a0a2"/>
<line x1="525.50" y1="645.06" x2="525.50" y2="623.75" stroke="#111" stroke-width="0.7" />
<line x1="521.40" y1="645.06" x2="529.60" y2="645.06" stroke="#111" stroke-width="0.7" />
<line x1="521.40" y1="623.75" x2="529.60" y2="623.75" stroke="#111" stroke-width="0.7" />
<line x1="550.20" y1="637.51" x2="550.20" y2="626.71" stroke="#111" stroke-width="0.7" />
<line x1="546.10" y1="637.51" x2="554.30" y2="637.51" stroke="#111" stroke-width="0.7" />
<line x1="546.10" y1="626.71" x2="554.30" y2="626.71" stroke="#111" stroke-width="0.7" />
<line x1="574.70" y1="643.28" x2="574.70" y2="637.51" stroke="#111" stroke-width="0.7" />
<line x1="570.60" y1="643.28" x2="578.80" y2="643.28" stroke="#111" stroke-width="0.7" />
<line x1="570.60" y1="637.51" x2="578.80" y2="637.51" stroke="#111" stroke-width="0.7" />
<line x1="599.30" y1="683.54" x2="599.30" y2="677.92" stroke="#111" stroke-width="0.7" />
<line x1="595.20" y1="683.54" x2="603.40" y2="683.54" stroke="#111" stroke-width="0.7" />
<line x1="595.20" y1="677.92" x2="603.40" y2="677.92" stroke="#111" stroke-width="0.7" />
<circle cx="525.80" cy="622.27" r="1.25" fill="#111"/>
<circle cx="525.30" cy="638.25" r="1.25" fill="#111"/>
<circle cx="525.30" cy="641.21" r="1.25" fill="#111"/>
<circle cx="550.40" cy="626.41" r="1.25" fill="#111"/>
<circle cx="547.80" cy="636.48" r="1.25" fill="#111"/>
<circle cx="553.00" cy="635.00" r="1.25" fill="#111"/>
<circle cx="572.60" cy="638.25" r="1.25" fill="#111"/>
<circle cx="577.20" cy="638.25" r="1.25" fill="#111"/>
<circle cx="574.70" cy="644.17" r="1.25" fill="#111"/>
<circle cx="599.40" cy="679.10" r="1.25" fill="#111"/>
<circle cx="596.80" cy="682.36" r="1.25" fill="#111"/>
<circle cx="602.00" cy="681.17" r="1.25" fill="#111"/>
<path d="M509.00,567.70 L509.00,686.50 L616.80,686.50" stroke="#111" stroke-width="1.3" fill="none" />
<line x1="505.40" y1="686.50" x2="509.00" y2="686.50" stroke="#111" stroke-width="1.15" />
<text x="504.40" y="689.05" font-size="7.2" font-weight="bold" text-anchor="end">0</text>
<line x1="505.40" y1="656.90" x2="509.00" y2="656.90" stroke="#111" stroke-width="1.15" />
<text x="504.40" y="659.45" font-size="7.2" font-weight="bold" text-anchor="end">10</text>
<line x1="505.40" y1="627.30" x2="509.00" y2="627.30" stroke="#111" stroke-width="1.15" />
<text x="504.40" y="629.85" font-size="7.2" font-weight="bold" text-anchor="end">20</text>
<line x1="505.40" y1="597.70" x2="509.00" y2="597.70" stroke="#111" stroke-width="1.15" />
<text x="504.40" y="600.25" font-size="7.2" font-weight="bold" text-anchor="end">30</text>
<line x1="505.40" y1="568.10" x2="509.00" y2="568.10" stroke="#111" stroke-width="1.15" />
<text x="504.40" y="570.65" font-size="7.2" font-weight="bold" text-anchor="end">40</text>
<line x1="525.50" y1="686.50" x2="525.50" y2="689.90" stroke="#111" stroke-width="1.15" />
<line x1="550.20" y1="686.50" x2="550.20" y2="689.90" stroke="#111" stroke-width="1.15" />
<line x1="574.70" y1="686.50" x2="574.70" y2="689.90" stroke="#111" stroke-width="1.15" />
<line x1="599.30" y1="686.50" x2="599.30" y2="689.90" stroke="#111" stroke-width="1.15" />
<line x1="525.80" y1="600.80" x2="574.70" y2="600.80" stroke="#777" stroke-width="1.0" />
<text x="550.00" y="595.40" font-size="6.6" text-anchor="middle" fill="#333">ns</text>
<line x1="525.80" y1="615.40" x2="550.00" y2="615.40" stroke="#777" stroke-width="1.0" />
<text x="537.30" y="610.30" font-size="6.6" text-anchor="middle" fill="#333">ns</text>
<text x="527.40" y="696.60" font-size="7.35" font-weight="bold" text-anchor="end" transform="rotate(-45 527.40 696.60)"><tspan font-style="italic">MAPK3</tspan>-100nt</text>
<text x="552.10" y="696.60" font-size="7.35" font-weight="bold" text-anchor="end" transform="rotate(-45 552.10 696.60)"><tspan font-style="italic">MAPK3</tspan>-50nt</text>
<text x="576.60" y="696.60" font-size="7.35" font-weight="bold" text-anchor="end" transform="rotate(-45 576.60 696.60)"><tspan font-style="italic">MAPK3</tspan>-25nt</text>
<text x="601.20" y="696.60" font-size="7.35" font-weight="bold" text-anchor="end" transform="rotate(-45 601.20 696.60)">no RNA</text>
<text x="481.40" y="627.90" font-size="7.4" font-weight="bold" text-anchor="middle" textLength="90.00" lengthAdjust="spacingAndGlyphs" transform="rotate(-90 481.40 627.90)">Amount of methyl moiety</text>
<text x="489.90" y="627.90" font-size="7.4" font-weight="bold" text-anchor="middle" textLength="106.00" lengthAdjust="spacingAndGlyphs" transform="rotate(-90 489.90 627.90)">incorporated into RNA (pmol)</text>
</g>
<g id="panel-j">
<text x="59.40" y="770.00" font-size="12.3" font-weight="bold">j</text>
<text x="89.20" y="784.35" font-size="7.4" font-weight="bold" text-anchor="middle" fill="#e0252b" textLength="4.20" lengthAdjust="spacingAndGlyphs">C</text>
<text x="98.70" y="782.95" font-size="7.4" font-weight="bold" text-anchor="middle" textLength="4.20" lengthAdjust="spacingAndGlyphs">U</text>
<text x="107.50" y="785.15" font-size="7.4" font-weight="bold" text-anchor="middle" textLength="4.20" lengthAdjust="spacingAndGlyphs">C</text>
<text x="115.00" y="790.45" font-size="7.4" font-weight="bold" text-anchor="middle" textLength="4.20" lengthAdjust="spacingAndGlyphs">C</text>
<text x="118.80" y="798.95" font-size="7.4" font-weight="bold" text-anchor="middle" textLength="4.20" lengthAdjust="spacingAndGlyphs">A</text>
<text x="118.80" y="809.35" font-size="7.4" font-weight="bold" text-anchor="middle" textLength="4.20" lengthAdjust="spacingAndGlyphs">A</text>
<text x="114.20" y="817.95" font-size="7.4" font-weight="bold" text-anchor="middle" textLength="4.20" lengthAdjust="spacingAndGlyphs">G</text>
<text x="81.70" y="790.45" font-size="7.4" font-weight="bold" text-anchor="middle" textLength="4.20" lengthAdjust="spacingAndGlyphs">U</text>
<text x="77.80" y="799.85" font-size="7.4" font-weight="bold" text-anchor="middle" textLength="4.20" lengthAdjust="spacingAndGlyphs">C</text>
<text x="77.80" y="809.35" font-size="7.4" font-weight="bold" text-anchor="middle" textLength="4.20" lengthAdjust="spacingAndGlyphs">C</text>
<text x="81.70" y="817.15" font-size="7.4" font-weight="bold" text-anchor="middle" textLength="4.20" lengthAdjust="spacingAndGlyphs">A</text>
<text x="90.00" y="824.65" font-size="7.4" font-weight="bold" text-anchor="middle" textLength="4.20" lengthAdjust="spacingAndGlyphs">C</text>
<text x="105.80" y="824.65" font-size="7.4" font-weight="bold" text-anchor="middle" textLength="4.20" lengthAdjust="spacingAndGlyphs">G</text>
<line x1="96.40" y1="822.00" x2="99.80" y2="822.00" stroke="#888" stroke-width="0.8" />
<text x="90.00" y="833.45" font-size="7.4" font-weight="bold" text-anchor="middle" textLength="4.20" lengthAdjust="spacingAndGlyphs">C</text>
<text x="105.80" y="833.45" font-size="7.4" font-weight="bold" text-anchor="middle" textLength="4.20" lengthAdjust="spacingAndGlyphs">G</text>
<line x1="96.40" y1="830.80" x2="99.80" y2="830.80" stroke="#111" stroke-width="0.8" />
<text x="90.00" y="842.35" font-size="7.4" font-weight="bold" text-anchor="middle" textLength="4.20" lengthAdjust="spacingAndGlyphs">G</text>
<text x="105.80" y="842.35" font-size="7.4" font-weight="bold" text-anchor="middle" textLength="4.20" lengthAdjust="spacingAndGlyphs">C</text>
<line x1="96.40" y1="839.70" x2="99.80" y2="839.70" stroke="#111" stroke-width="0.8" />
<text x="90.00" y="852.35" font-size="7.4" font-weight="bold" text-anchor="middle" textLength="4.20" lengthAdjust="spacingAndGlyphs">G</text>
<text x="105.80" y="852.35" font-size="7.4" font-weight="bold" text-anchor="middle" textLength="4.20" lengthAdjust="spacingAndGlyphs">U</text>
<line x1="96.40" y1="849.70" x2="99.80" y2="849.70" stroke="#111" stroke-width="0.8" />
<text x="90.00" y="861.45" font-size="7.4" font-weight="bold" text-anchor="middle" textLength="4.20" lengthAdjust="spacingAndGlyphs">A</text>
<text x="105.80" y="861.45" font-size="7.4" font-weight="bold" text-anchor="middle" textLength="4.20" lengthAdjust="spacingAndGlyphs">U</text>
<line x1="96.40" y1="858.80" x2="99.80" y2="858.80" stroke="#111" stroke-width="0.8" />
<text x="90.00" y="871.45" font-size="7.4" font-weight="bold" text-anchor="middle" textLength="4.20" lengthAdjust="spacingAndGlyphs">G</text>
<text x="105.80" y="871.45" font-size="7.4" font-weight="bold" text-anchor="middle" textLength="4.20" lengthAdjust="spacingAndGlyphs">C</text>
<line x1="96.40" y1="868.80" x2="99.80" y2="868.80" stroke="#111" stroke-width="0.8" />
<text x="90.00" y="881.35" font-size="7.4" font-weight="bold" text-anchor="middle" textLength="4.20" lengthAdjust="spacingAndGlyphs">G</text>
<text x="105.80" y="881.35" font-size="7.4" font-weight="bold" text-anchor="middle" textLength="4.20" lengthAdjust="spacingAndGlyphs">U</text>
<line x1="96.40" y1="878.70" x2="99.80" y2="878.70" stroke="#111" stroke-width="0.8" />
<text x="83.80" y="888.50" font-size="6.6" font-weight="bold" text-anchor="middle">5'</text>
<text x="111.70" y="888.50" font-size="6.6" font-weight="bold" text-anchor="middle">3'</text>
<text x="98.70" y="768.25" font-size="6.9" font-weight="bold" text-anchor="middle" fill="#4f8fd0" textLength="7.40" lengthAdjust="spacingAndGlyphs">13</text>
<text x="118.00" y="772.75" font-size="6.9" font-weight="bold" text-anchor="middle" fill="#4f8fd0" textLength="7.40" lengthAdjust="spacingAndGlyphs">14</text>
<text x="130.50" y="784.15" font-size="6.9" font-weight="bold" text-anchor="middle" fill="#4f8fd0" textLength="7.40" lengthAdjust="spacingAndGlyphs">15</text>
<text x="134.20" y="798.25" font-size="6.9" font-weight="bold" text-anchor="middle" fill="#4f8fd0" textLength="7.40" lengthAdjust="spacingAndGlyphs">16</text>
<line x1="98.70" y1="769.90" x2="98.70" y2="775.20" stroke="#4f8fd0" stroke-width="0.7" />
<line x1="115.00" y1="773.00" x2="110.00" y2="779.20" stroke="#4f8fd0" stroke-width="0.7" />
<line x1="125.00" y1="782.50" x2="118.60" y2="785.20" stroke="#4f8fd0" stroke-width="0.7" />
<line x1="122.70" y1="795.80" x2="128.40" y2="795.80" stroke="#4f8fd0" stroke-width="0.7" />
<text x="74.70" y="904.70" font-size="7.9" font-weight="bold" textLength="44.50" lengthAdjust="spacingAndGlyphs"><tspan font-style="italic">FURIN</tspan>-25nt</text>
</g>
<text x="156.30" y="771.20" font-size="12.3" font-weight="bold">k</text>
<g>
<text x="212.40" y="784.50" font-size="7.6" font-weight="bold" textLength="27.60" lengthAdjust="spacingAndGlyphs"><tspan fill="#111">C</tspan><tspan fill="#d63f4e">U</tspan><tspan fill="#111">CCA</tspan></text>
<rect x="190.95" y="815.29" width="10.10" height="60.26" fill="#4f7cb5"/>
<rect x="206.02" y="871.13" width="10.10" height="4.42" fill="#4f7cb5"/>
<rect x="221.09" y="873.54" width="10.10" height="2.01" fill="#c6d9ee"/>
<rect x="236.16" y="874.14" width="10.10" height="1.41" fill="#dfe9f5"/>
<rect x="251.23" y="873.14" width="10.10" height="2.41" fill="#a3a3a3"/>
<line x1="196.00" y1="822.32" x2="196.00" y2="808.46" stroke="#111" stroke-width="0.55" />
<line x1="193.70" y1="808.46" x2="198.30" y2="808.46" stroke="#111" stroke-width="0.55" />
<line x1="193.70" y1="822.32" x2="198.30" y2="822.32" stroke="#111" stroke-width="0.55" />
<line x1="211.07" y1="875.55" x2="211.07" y2="866.91" stroke="#111" stroke-width="0.55" />
<line x1="208.77" y1="866.91" x2="213.37" y2="866.91" stroke="#111" stroke-width="0.55" />
<line x1="226.14" y1="875.55" x2="226.14" y2="872.34" stroke="#111" stroke-width="0.55" />
<line x1="223.84" y1="872.34" x2="228.44" y2="872.34" stroke="#111" stroke-width="0.55" />
<line x1="241.21" y1="875.55" x2="241.21" y2="872.94" stroke="#111" stroke-width="0.55" />
<line x1="238.91" y1="872.94" x2="243.51" y2="872.94" stroke="#111" stroke-width="0.55" />
<line x1="256.28" y1="873.74" x2="256.28" y2="872.34" stroke="#111" stroke-width="0.55" />
<line x1="253.98" y1="872.34" x2="258.58" y2="872.34" stroke="#111" stroke-width="0.55" />
<line x1="253.98" y1="873.74" x2="258.58" y2="873.74" stroke="#111" stroke-width="0.55" />
<circle cx="196.00" cy="808.86" r="0.95" fill="#111"/>
<circle cx="196.00" cy="814.89" r="0.95" fill="#111"/>
<circle cx="196.00" cy="821.31" r="0.95" fill="#111"/>
<circle cx="211.07" cy="867.11" r="0.95" fill="#111"/>
<circle cx="209.77" cy="872.74" r="0.95" fill="#111"/>
<circle cx="212.37" cy="874.34" r="0.95" fill="#111"/>
<circle cx="226.14" cy="872.74" r="0.95" fill="#111"/>
<circle cx="226.14" cy="874.75" r="0.95" fill="#111"/>
<circle cx="241.21" cy="873.34" r="0.95" fill="#111"/>
<circle cx="241.21" cy="874.95" r="0.95" fill="#111"/>
<circle cx="256.28" cy="872.54" r="0.95" fill="#111"/>
<circle cx="254.98" cy="873.34" r="0.95" fill="#111"/>
<circle cx="257.58" cy="873.14" r="0.95" fill="#111"/>
<path d="M185.80,794.90 L185.80,875.55 L266.90,875.55" stroke="#111" stroke-width="0.9" fill="none" />
<line x1="183.50" y1="875.55" x2="185.80" y2="875.55" stroke="#111" stroke-width="0.7" />
<text x="182.80" y="877.50" font-size="5.5" font-weight="bold" text-anchor="end">0</text>
<line x1="183.50" y1="855.46" x2="185.80" y2="855.46" stroke="#111" stroke-width="0.7" />
<text x="182.80" y="857.41" font-size="5.5" font-weight="bold" text-anchor="end">10</text>
<line x1="183.50" y1="835.38" x2="185.80" y2="835.38" stroke="#111" stroke-width="0.7" />
<text x="182.80" y="837.33" font-size="5.5" font-weight="bold" text-anchor="end">20</text>
<line x1="183.50" y1="815.29" x2="185.80" y2="815.29" stroke="#111" stroke-width="0.7" />
<text x="182.80" y="817.24" font-size="5.5" font-weight="bold" text-anchor="end">30</text>
<line x1="183.50" y1="795.20" x2="185.80" y2="795.20" stroke="#111" stroke-width="0.7" />
<text x="182.80" y="797.15" font-size="5.5" font-weight="bold" text-anchor="end">40</text>
<line x1="196.00" y1="875.55" x2="196.00" y2="877.85" stroke="#111" stroke-width="0.7" />
<text x="198.80" y="881.85" font-size="6.0" font-weight="bold" text-anchor="end" transform="rotate(-45 198.80 881.85)">WT</text>
<line x1="211.07" y1="875.55" x2="211.07" y2="877.85" stroke="#111" stroke-width="0.7" />
<text x="213.87" y="881.85" font-size="6.0" font-weight="bold" text-anchor="end" transform="rotate(-45 213.87 881.85)">U13A</text>
<line x1="226.14" y1="875.55" x2="226.14" y2="877.85" stroke="#111" stroke-width="0.7" />
<text x="228.94" y="881.85" font-size="6.0" font-weight="bold" text-anchor="end" transform="rotate(-45 228.94 881.85)">U13C</text>
<line x1="241.21" y1="875.55" x2="241.21" y2="877.85" stroke="#111" stroke-width="0.7" />
<text x="244.01" y="881.85" font-size="6.0" font-weight="bold" text-anchor="end" transform="rotate(-45 244.01 881.85)">U13G</text>
<line x1="256.28" y1="875.55" x2="256.28" y2="877.85" stroke="#111" stroke-width="0.7" />
<text x="259.08" y="881.85" font-size="6.0" font-weight="bold" text-anchor="end" transform="rotate(-45 259.08 881.85)">no RNA</text>
<text x="166.20" y="835.77" font-size="5.5" font-weight="bold" text-anchor="middle" textLength="66.00" lengthAdjust="spacingAndGlyphs" transform="rotate(-90 166.20 835.77)">Amount of methyl moiety</text>
<text x="172.50" y="835.77" font-size="5.5" font-weight="bold" text-anchor="middle" textLength="77.50" lengthAdjust="spacingAndGlyphs" transform="rotate(-90 172.50 835.77)">incorporated into RNA (pmol)</text>
</g>
<g>
<text x="329.00" y="784.50" font-size="7.6" font-weight="bold" textLength="27.60" lengthAdjust="spacingAndGlyphs"><tspan fill="#111">CU</tspan><tspan fill="#d63f4e">C</tspan><tspan fill="#111">CA</tspan></text>
<rect x="307.55" y="815.29" width="10.10" height="60.26" fill="#4f7cb5"/>
<rect x="322.62" y="872.74" width="10.10" height="2.81" fill="#4f7cb5"/>
<rect x="337.69" y="873.74" width="10.10" height="1.81" fill="#c6d9ee"/>
<rect x="352.76" y="872.34" width="10.10" height="3.21" fill="#dfe9f5"/>
<rect x="367.83" y="873.14" width="10.10" height="2.41" fill="#a3a3a3"/>
<line x1="312.60" y1="822.32" x2="312.60" y2="808.46" stroke="#111" stroke-width="0.55" />
<line x1="310.30" y1="808.46" x2="314.90" y2="808.46" stroke="#111" stroke-width="0.55" />
<line x1="310.30" y1="822.32" x2="314.90" y2="822.32" stroke="#111" stroke-width="0.55" />
<line x1="327.67" y1="875.55" x2="327.67" y2="869.32" stroke="#111" stroke-width="0.55" />
<line x1="325.37" y1="869.32" x2="329.97" y2="869.32" stroke="#111" stroke-width="0.55" />
<line x1="342.74" y1="875.55" x2="342.74" y2="872.54" stroke="#111" stroke-width="0.55" />
<line x1="340.44" y1="872.54" x2="345.04" y2="872.54" stroke="#111" stroke-width="0.55" />
<line x1="357.81" y1="874.34" x2="357.81" y2="870.33" stroke="#111" stroke-width="0.55" />
<line x1="355.51" y1="870.33" x2="360.11" y2="870.33" stroke="#111" stroke-width="0.55" />
<line x1="355.51" y1="874.34" x2="360.11" y2="874.34" stroke="#111" stroke-width="0.55" />
<line x1="372.88" y1="873.74" x2="372.88" y2="872.34" stroke="#111" stroke-width="0.55" />
<line x1="370.58" y1="872.34" x2="375.18" y2="872.34" stroke="#111" stroke-width="0.55" />
<line x1="370.58" y1="873.74" x2="375.18" y2="873.74" stroke="#111" stroke-width="0.55" />
<circle cx="312.60" cy="808.86" r="0.95" fill="#111"/>
<circle cx="312.60" cy="814.89" r="0.95" fill="#111"/>
<circle cx="312.60" cy="821.31" r="0.95" fill="#111"/>
<circle cx="327.67" cy="869.52" r="0.95" fill="#111"/>
<circle cx="327.67" cy="874.34" r="0.95" fill="#111"/>
<circle cx="342.74" cy="872.94" r="0.95" fill="#111"/>
<circle cx="341.44" cy="874.55" r="0.95" fill="#111"/>
<circle cx="344.04" cy="873.94" r="0.95" fill="#111"/>
<circle cx="357.81" cy="870.93" r="0.95" fill="#111"/>
<circle cx="356.51" cy="872.94" r="0.95" fill="#111"/>
<circle cx="359.11" cy="873.14" r="0.95" fill="#111"/>
<circle cx="372.88" cy="872.54" r="0.95" fill="#111"/>
<circle cx="371.58" cy="873.34" r="0.95" fill="#111"/>
<circle cx="374.18" cy="873.14" r="0.95" fill="#111"/>
<path d="M302.40,794.90 L302.40,875.55 L383.50,875.55" stroke="#111" stroke-width="0.9" fill="none" />
<line x1="300.10" y1="875.55" x2="302.40" y2="875.55" stroke="#111" stroke-width="0.7" />
<text x="299.40" y="877.50" font-size="5.5" font-weight="bold" text-anchor="end">0</text>
<line x1="300.10" y1="855.46" x2="302.40" y2="855.46" stroke="#111" stroke-width="0.7" />
<text x="299.40" y="857.41" font-size="5.5" font-weight="bold" text-anchor="end">10</text>
<line x1="300.10" y1="835.38" x2="302.40" y2="835.38" stroke="#111" stroke-width="0.7" />
<text x="299.40" y="837.33" font-size="5.5" font-weight="bold" text-anchor="end">20</text>
<line x1="300.10" y1="815.29" x2="302.40" y2="815.29" stroke="#111" stroke-width="0.7" />
<text x="299.40" y="817.24" font-size="5.5" font-weight="bold" text-anchor="end">30</text>
<line x1="300.10" y1="795.20" x2="302.40" y2="795.20" stroke="#111" stroke-width="0.7" />
<text x="299.40" y="797.15" font-size="5.5" font-weight="bold" text-anchor="end">40</text>
<line x1="312.60" y1="875.55" x2="312.60" y2="877.85" stroke="#111" stroke-width="0.7" />
<text x="315.40" y="881.85" font-size="6.0" font-weight="bold" text-anchor="end" transform="rotate(-45 315.40 881.85)">WT</text>
<line x1="327.67" y1="875.55" x2="327.67" y2="877.85" stroke="#111" stroke-width="0.7" />
<text x="330.47" y="881.85" font-size="6.0" font-weight="bold" text-anchor="end" transform="rotate(-45 330.47 881.85)">C14A</text>
<line x1="342.74" y1="875.55" x2="342.74" y2="877.85" stroke="#111" stroke-width="0.7" />
<text x="345.54" y="881.85" font-size="6.0" font-weight="bold" text-anchor="end" transform="rotate(-45 345.54 881.85)">C14U</text>
<line x1="357.81" y1="875.55" x2="357.81" y2="877.85" stroke="#111" stroke-width="0.7" />
<text x="360.61" y="881.85" font-size="6.0" font-weight="bold" text-anchor="end" transform="rotate(-45 360.61 881.85)">C14G</text>
<line x1="372.88" y1="875.55" x2="372.88" y2="877.85" stroke="#111" stroke-width="0.7" />
<text x="375.68" y="881.85" font-size="6.0" font-weight="bold" text-anchor="end" transform="rotate(-45 375.68 881.85)">no RNA</text>
<text x="282.80" y="835.77" font-size="5.5" font-weight="bold" text-anchor="middle" textLength="66.00" lengthAdjust="spacingAndGlyphs" transform="rotate(-90 282.80 835.77)">Amount of methyl moiety</text>
<text x="289.10" y="835.77" font-size="5.5" font-weight="bold" text-anchor="middle" textLength="77.50" lengthAdjust="spacingAndGlyphs" transform="rotate(-90 289.10 835.77)">incorporated into RNA (pmol)</text>
</g>
<g>
<text x="445.80" y="784.50" font-size="7.6" font-weight="bold" textLength="27.60" lengthAdjust="spacingAndGlyphs"><tspan fill="#111">CUC</tspan><tspan fill="#d63f4e">C</tspan><tspan fill="#111">A</tspan></text>
<rect x="424.35" y="815.29" width="10.10" height="60.26" fill="#4f7cb5"/>
<rect x="439.42" y="871.53" width="10.10" height="4.02" fill="#4f7cb5"/>
<rect x="454.49" y="844.82" width="10.10" height="30.73" fill="#c6d9ee"/>
<rect x="469.56" y="868.72" width="10.10" height="6.83" fill="#dfe9f5"/>
<rect x="484.63" y="873.14" width="10.10" height="2.41" fill="#a3a3a3"/>
<line x1="429.40" y1="822.32" x2="429.40" y2="808.46" stroke="#111" stroke-width="0.55" />
<line x1="427.10" y1="808.46" x2="431.70" y2="808.46" stroke="#111" stroke-width="0.55" />
<line x1="427.10" y1="822.32" x2="431.70" y2="822.32" stroke="#111" stroke-width="0.55" />
<line x1="444.47" y1="875.55" x2="444.47" y2="866.91" stroke="#111" stroke-width="0.55" />
<line x1="442.17" y1="866.91" x2="446.77" y2="866.91" stroke="#111" stroke-width="0.55" />
<line x1="459.54" y1="848.43" x2="459.54" y2="841.40" stroke="#111" stroke-width="0.55" />
<line x1="457.24" y1="841.40" x2="461.84" y2="841.40" stroke="#111" stroke-width="0.55" />
<line x1="457.24" y1="848.43" x2="461.84" y2="848.43" stroke="#111" stroke-width="0.55" />
<line x1="474.61" y1="871.53" x2="474.61" y2="865.91" stroke="#111" stroke-width="0.55" />
<line x1="472.31" y1="865.91" x2="476.91" y2="865.91" stroke="#111" stroke-width="0.55" />
<line x1="472.31" y1="871.53" x2="476.91" y2="871.53" stroke="#111" stroke-width="0.55" />
<line x1="489.68" y1="873.74" x2="489.68" y2="872.34" stroke="#111" stroke-width="0.55" />
<line x1="487.38" y1="872.34" x2="491.98" y2="872.34" stroke="#111" stroke-width="0.55" />
<line x1="487.38" y1="873.74" x2="491.98" y2="873.74" stroke="#111" stroke-width="0.55" />
<circle cx="429.40" cy="808.86" r="0.95" fill="#111"/>
<circle cx="429.40" cy="814.89" r="0.95" fill="#111"/>
<circle cx="429.40" cy="821.31" r="0.95" fill="#111"/>
<circle cx="444.47" cy="867.31" r="0.95" fill="#111"/>
<circle cx="443.17" cy="873.54" r="0.95" fill="#111"/>
<circle cx="445.77" cy="874.34" r="0.95" fill="#111"/>
<circle cx="459.54" cy="842.20" r="0.95" fill="#111"/>
<circle cx="459.54" cy="845.02" r="0.95" fill="#111"/>
<circle cx="459.54" cy="847.43" r="0.95" fill="#111"/>
<circle cx="474.61" cy="866.31" r="0.95" fill="#111"/>
<circle cx="473.31" cy="869.72" r="0.95" fill="#111"/>
<circle cx="475.91" cy="870.33" r="0.95" fill="#111"/>
<circle cx="489.68" cy="872.54" r="0.95" fill="#111"/>
<circle cx="488.38" cy="873.34" r="0.95" fill="#111"/>
<circle cx="490.98" cy="873.14" r="0.95" fill="#111"/>
<path d="M419.20,794.90 L419.20,875.55 L500.30,875.55" stroke="#111" stroke-width="0.9" fill="none" />
<line x1="416.90" y1="875.55" x2="419.20" y2="875.55" stroke="#111" stroke-width="0.7" />
<text x="416.20" y="877.50" font-size="5.5" font-weight="bold" text-anchor="end">0</text>
<line x1="416.90" y1="855.46" x2="419.20" y2="855.46" stroke="#111" stroke-width="0.7" />
<text x="416.20" y="857.41" font-size="5.5" font-weight="bold" text-anchor="end">10</text>
<line x1="416.90" y1="835.38" x2="419.20" y2="835.38" stroke="#111" stroke-width="0.7" />
<text x="416.20" y="837.33" font-size="5.5" font-weight="bold" text-anchor="end">20</text>
<line x1="416.90" y1="815.29" x2="419.20" y2="815.29" stroke="#111" stroke-width="0.7" />
<text x="416.20" y="817.24" font-size="5.5" font-weight="bold" text-anchor="end">30</text>
<line x1="416.90" y1="795.20" x2="419.20" y2="795.20" stroke="#111" stroke-width="0.7" />
<text x="416.20" y="797.15" font-size="5.5" font-weight="bold" text-anchor="end">40</text>
<line x1="429.40" y1="875.55" x2="429.40" y2="877.85" stroke="#111" stroke-width="0.7" />
<text x="432.20" y="881.85" font-size="6.0" font-weight="bold" text-anchor="end" transform="rotate(-45 432.20 881.85)">WT</text>
<line x1="444.47" y1="875.55" x2="444.47" y2="877.85" stroke="#111" stroke-width="0.7" />
<text x="447.27" y="881.85" font-size="6.0" font-weight="bold" text-anchor="end" transform="rotate(-45 447.27 881.85)">C15A</text>
<line x1="459.54" y1="875.55" x2="459.54" y2="877.85" stroke="#111" stroke-width="0.7" />
<text x="462.34" y="881.85" font-size="6.0" font-weight="bold" text-anchor="end" transform="rotate(-45 462.34 881.85)">C15U</text>
<line x1="474.61" y1="875.55" x2="474.61" y2="877.85" stroke="#111" stroke-width="0.7" />
<text x="477.41" y="881.85" font-size="6.0" font-weight="bold" text-anchor="end" transform="rotate(-45 477.41 881.85)">C15G</text>
<line x1="489.68" y1="875.55" x2="489.68" y2="877.85" stroke="#111" stroke-width="0.7" />
<text x="492.48" y="881.85" font-size="6.0" font-weight="bold" text-anchor="end" transform="rotate(-45 492.48 881.85)">no RNA</text>
<text x="399.60" y="835.77" font-size="5.5" font-weight="bold" text-anchor="middle" textLength="66.00" lengthAdjust="spacingAndGlyphs" transform="rotate(-90 399.60 835.77)">Amount of methyl moiety</text>
<text x="405.90" y="835.77" font-size="5.5" font-weight="bold" text-anchor="middle" textLength="77.50" lengthAdjust="spacingAndGlyphs" transform="rotate(-90 405.90 835.77)">incorporated into RNA (pmol)</text>
</g>
<g>
<text x="562.90" y="784.50" font-size="7.6" font-weight="bold" textLength="27.60" lengthAdjust="spacingAndGlyphs"><tspan fill="#111">CUCC</tspan><tspan fill="#d63f4e">A</tspan></text>
<rect x="541.45" y="815.29" width="10.10" height="60.26" fill="#4f7cb5"/>
<rect x="556.52" y="870.53" width="10.10" height="5.02" fill="#5b8cc6"/>
<rect x="571.59" y="872.14" width="10.10" height="3.41" fill="#c6d9ee"/>
<rect x="586.66" y="871.73" width="10.10" height="3.82" fill="#dfe9f5"/>
<rect x="601.73" y="873.14" width="10.10" height="2.41" fill="#a3a3a3"/>
<line x1="546.50" y1="822.32" x2="546.50" y2="808.46" stroke="#111" stroke-width="0.55" />
<line x1="544.20" y1="808.46" x2="548.80" y2="808.46" stroke="#111" stroke-width="0.55" />
<line x1="544.20" y1="822.32" x2="548.80" y2="822.32" stroke="#111" stroke-width="0.55" />
<line x1="561.57" y1="872.54" x2="561.57" y2="868.32" stroke="#111" stroke-width="0.55" />
<line x1="559.27" y1="868.32" x2="563.87" y2="868.32" stroke="#111" stroke-width="0.55" />
<line x1="559.27" y1="872.54" x2="563.87" y2="872.54" stroke="#111" stroke-width="0.55" />
<line x1="576.64" y1="875.55" x2="576.64" y2="869.93" stroke="#111" stroke-width="0.55" />
<line x1="574.34" y1="869.93" x2="578.94" y2="869.93" stroke="#111" stroke-width="0.55" />
<line x1="591.71" y1="875.55" x2="591.71" y2="867.92" stroke="#111" stroke-width="0.55" />
<line x1="589.41" y1="867.92" x2="594.01" y2="867.92" stroke="#111" stroke-width="0.55" />
<line x1="606.78" y1="873.74" x2="606.78" y2="872.34" stroke="#111" stroke-width="0.55" />
<line x1="604.48" y1="872.34" x2="609.08" y2="872.34" stroke="#111" stroke-width="0.55" />
<line x1="604.48" y1="873.74" x2="609.08" y2="873.74" stroke="#111" stroke-width="0.55" />
<circle cx="546.50" cy="808.86" r="0.95" fill="#111"/>
<circle cx="546.50" cy="814.89" r="0.95" fill="#111"/>
<circle cx="546.50" cy="821.31" r="0.95" fill="#111"/>
<circle cx="561.57" cy="868.92" r="0.95" fill="#111"/>
<circle cx="560.27" cy="871.33" r="0.95" fill="#111"/>
<circle cx="562.87" cy="871.53" r="0.95" fill="#111"/>
<circle cx="576.64" cy="870.33" r="0.95" fill="#111"/>
<circle cx="576.64" cy="873.14" r="0.95" fill="#111"/>
<circle cx="591.71" cy="868.12" r="0.95" fill="#111"/>
<circle cx="591.71" cy="873.54" r="0.95" fill="#111"/>
<circle cx="606.78" cy="872.54" r="0.95" fill="#111"/>
<circle cx="605.48" cy="873.34" r="0.95" fill="#111"/>
<circle cx="608.08" cy="873.14" r="0.95" fill="#111"/>
<path d="M536.30,794.90 L536.30,875.55 L617.40,875.55" stroke="#111" stroke-width="0.9" fill="none" />
<line x1="534.00" y1="875.55" x2="536.30" y2="875.55" stroke="#111" stroke-width="0.7" />
<text x="533.30" y="877.50" font-size="5.5" font-weight="bold" text-anchor="end">0</text>
<line x1="534.00" y1="855.46" x2="536.30" y2="855.46" stroke="#111" stroke-width="0.7" />
<text x="533.30" y="857.41" font-size="5.5" font-weight="bold" text-anchor="end">10</text>
<line x1="534.00" y1="835.38" x2="536.30" y2="835.38" stroke="#111" stroke-width="0.7" />
<text x="533.30" y="837.33" font-size="5.5" font-weight="bold" text-anchor="end">20</text>
<line x1="534.00" y1="815.29" x2="536.30" y2="815.29" stroke="#111" stroke-width="0.7" />
<text x="533.30" y="817.24" font-size="5.5" font-weight="bold" text-anchor="end">30</text>
<line x1="534.00" y1="795.20" x2="536.30" y2="795.20" stroke="#111" stroke-width="0.7" />
<text x="533.30" y="797.15" font-size="5.5" font-weight="bold" text-anchor="end">40</text>
<line x1="546.50" y1="875.55" x2="546.50" y2="877.85" stroke="#111" stroke-width="0.7" />
<text x="549.30" y="881.85" font-size="6.0" font-weight="bold" text-anchor="end" transform="rotate(-45 549.30 881.85)">WT</text>
<line x1="561.57" y1="875.55" x2="561.57" y2="877.85" stroke="#111" stroke-width="0.7" />
<text x="564.37" y="881.85" font-size="6.0" font-weight="bold" text-anchor="end" transform="rotate(-45 564.37 881.85)">A16G</text>
<line x1="576.64" y1="875.55" x2="576.64" y2="877.85" stroke="#111" stroke-width="0.7" />
<text x="579.44" y="881.85" font-size="6.0" font-weight="bold" text-anchor="end" transform="rotate(-45 579.44 881.85)">A16U</text>
<line x1="591.71" y1="875.55" x2="591.71" y2="877.85" stroke="#111" stroke-width="0.7" />
<text x="594.51" y="881.85" font-size="6.0" font-weight="bold" text-anchor="end" transform="rotate(-45 594.51 881.85)">A16C</text>
<line x1="606.78" y1="875.55" x2="606.78" y2="877.85" stroke="#111" stroke-width="0.7" />
<text x="609.58" y="881.85" font-size="6.0" font-weight="bold" text-anchor="end" transform="rotate(-45 609.58 881.85)">no RNA</text>
<text x="516.70" y="835.77" font-size="5.5" font-weight="bold" text-anchor="middle" textLength="66.00" lengthAdjust="spacingAndGlyphs" transform="rotate(-90 516.70 835.77)">Amount of methyl moiety</text>
<text x="523.00" y="835.77" font-size="5.5" font-weight="bold" text-anchor="middle" textLength="77.50" lengthAdjust="spacingAndGlyphs" transform="rotate(-90 523.00 835.77)">incorporated into RNA (pmol)</text>
</g>
</svg>
</body>
</html>
